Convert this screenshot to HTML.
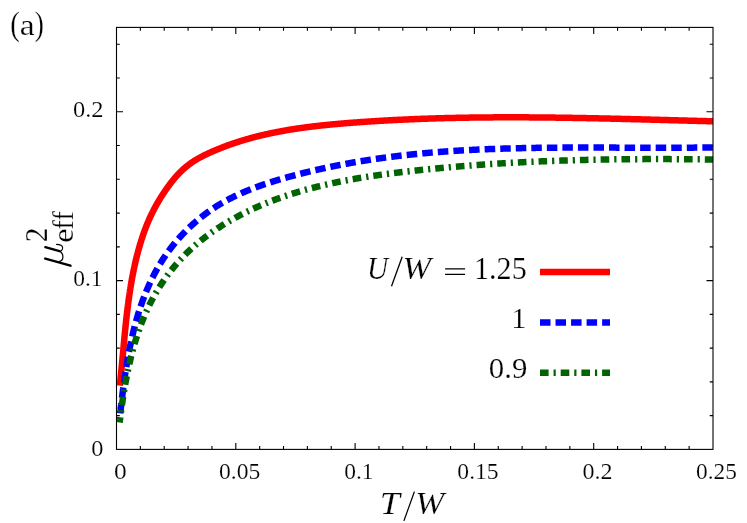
<!DOCTYPE html>
<html><head><meta charset="utf-8"><title>chart</title>
<style>html,body{margin:0;padding:0;background:#fff;}svg{display:block;}text{font-family:"Liberation Serif",serif;fill:#000;}</style></head><body>
<svg width="747" height="523" viewBox="0 0 747 523">
<rect width="747" height="523" fill="#fff"/>
<path d="M140.36 449.40 v-3.30 M140.36 27.40 v3.30 M164.22 449.40 v-3.30 M164.22 27.40 v3.30 M188.08 449.40 v-3.30 M188.08 27.40 v3.30 M211.94 449.40 v-3.30 M211.94 27.40 v3.30 M235.80 449.40 v-6.50 M235.80 27.40 v6.50 M259.66 449.40 v-3.30 M259.66 27.40 v3.30 M283.52 449.40 v-3.30 M283.52 27.40 v3.30 M307.38 449.40 v-3.30 M307.38 27.40 v3.30 M331.24 449.40 v-3.30 M331.24 27.40 v3.30 M355.10 449.40 v-6.50 M355.10 27.40 v6.50 M378.96 449.40 v-3.30 M378.96 27.40 v3.30 M402.82 449.40 v-3.30 M402.82 27.40 v3.30 M426.68 449.40 v-3.30 M426.68 27.40 v3.30 M450.54 449.40 v-3.30 M450.54 27.40 v3.30 M474.40 449.40 v-6.50 M474.40 27.40 v6.50 M498.26 449.40 v-3.30 M498.26 27.40 v3.30 M522.12 449.40 v-3.30 M522.12 27.40 v3.30 M545.98 449.40 v-3.30 M545.98 27.40 v3.30 M569.84 449.40 v-3.30 M569.84 27.40 v3.30 M593.70 449.40 v-6.50 M593.70 27.40 v6.50 M617.56 449.40 v-3.30 M617.56 27.40 v3.30 M641.42 449.40 v-3.30 M641.42 27.40 v3.30 M665.28 449.40 v-3.30 M665.28 27.40 v3.30 M689.14 449.40 v-3.30 M689.14 27.40 v3.30 M116.50 415.64 h3.30 M713.00 415.64 h-3.30 M116.50 381.88 h3.30 M713.00 381.88 h-3.30 M116.50 348.12 h3.30 M713.00 348.12 h-3.30 M116.50 314.36 h3.30 M713.00 314.36 h-3.30 M116.50 280.60 h6.50 M713.00 280.60 h-6.50 M116.50 246.84 h3.30 M713.00 246.84 h-3.30 M116.50 213.08 h3.30 M713.00 213.08 h-3.30 M116.50 179.32 h3.30 M713.00 179.32 h-3.30 M116.50 145.56 h3.30 M713.00 145.56 h-3.30 M116.50 111.80 h6.50 M713.00 111.80 h-6.50 M116.50 78.04 h3.30 M713.00 78.04 h-3.30 M116.50 44.28 h3.30 M713.00 44.28 h-3.30" stroke="#000" stroke-width="1.1" fill="none"/>
<g fill="none" stroke-linecap="butt" stroke-linejoin="round">
<path d="M119.80 385.60 L119.85 385.11 L119.91 384.62 L119.96 384.13 L120.01 383.64 L120.07 383.15 L120.12 382.66 L120.17 382.17 L120.22 381.68 L120.28 381.19 L120.33 380.70 L120.38 380.20 L120.43 379.71 L120.48 379.22 L120.53 378.73 L120.58 378.24 L120.64 377.74 L120.69 377.25 L120.74 376.76 L120.79 376.27 L120.84 375.77 L120.89 375.28 L120.94 374.79 L120.98 374.29 L121.03 373.80 L121.08 373.31 L121.13 372.81 L121.18 372.32 L121.23 371.83 L121.28 371.33 L121.33 370.84 L121.37 370.34 L121.42 369.85 L121.47 369.35 L121.52 368.86 L121.56 368.36 L121.61 367.87 L121.66 367.37 L121.71 366.88 L121.75 366.38 L121.80 365.88 L121.85 365.39 L121.89 364.89 L121.94 364.40 L121.99 363.90 L122.03 363.40 L122.08 362.91 L122.13 362.41 L122.17 361.91 L122.22 361.42 L122.27 360.92 L122.31 360.42 L122.36 359.93 L122.40 359.43 L122.45 358.93 L122.50 358.43 L122.54 357.94 L122.59 357.44 L122.63 356.94 L122.68 356.44 L122.73 355.94 L122.77 355.45 L122.82 354.95 L122.86 354.45 L122.91 353.95 L122.95 353.45 L123.00 352.96 L123.05 352.46 L123.09 351.96 L123.14 351.46 L123.18 350.96 L123.23 350.46 L123.27 349.96 L123.32 349.46 L123.37 348.96 L123.41 348.47 L123.46 347.97 L123.50 347.47 L123.55 346.97 L123.60 346.47 L123.64 345.97 L123.69 345.47 L123.73 344.97 L123.78 344.47 L123.83 343.97 L123.87 343.47 L123.92 342.97 L123.97 342.47 L124.01 341.97 L124.06 341.47 L124.11 340.97 L124.15 340.47 L124.20 339.97 L124.25 339.47 L124.30 338.97 L124.34 338.47 L124.39 337.97 L124.44 337.47 L124.49 336.97 L124.53 336.47 L124.58 335.97 L124.63 335.47 L124.68 334.97 L124.73 334.47 L124.77 333.97 L124.82 333.47 L124.87 332.97 L124.92 332.47 L124.97 331.97 L125.02 331.46 L125.07 330.96 L125.12 330.46 L125.17 329.96 L125.22 329.46 L125.27 328.96 L125.32 328.46 L125.37 327.96 L125.42 327.46 L125.47 326.96 L125.52 326.46 L125.58 325.96 L125.63 325.46 L125.68 324.96 L125.73 324.46 L125.78 323.96 L125.84 323.46 L125.89 322.96 L125.94 322.46 L126.00 321.96 L126.05 321.46 L126.10 320.95 L126.16 320.45 L126.21 319.95 L126.27 319.45 L126.32 318.95 L126.38 318.45 L126.43 317.95 L126.49 317.45 L126.54 316.95 L126.60 316.45 L126.66 315.95 L126.71 315.45 L126.77 314.95 L126.83 314.45 L126.88 313.95 L126.94 313.45 L127.00 312.95 L127.06 312.45 L127.12 311.96 L127.18 311.46 L127.24 310.96 L127.30 310.46 L127.36 309.96 L127.42 309.46 L127.48 308.96 L127.54 308.46 L127.60 307.96 L127.66 307.46 L127.73 306.96 L127.79 306.46 L127.85 305.96 L127.92 305.47 L127.98 304.97 L128.04 304.47 L128.11 303.97 L128.17 303.47 L128.24 302.97 L128.31 302.48 L128.37 301.98 L128.44 301.48 L128.51 300.98 L128.57 300.48 L128.64 299.99 L128.71 299.49 L128.78 298.99 L128.85 298.49 L128.92 298.00 L128.99 297.50 L129.06 297.00 L129.13 296.50 L129.20 296.01 L129.27 295.51 L129.34 295.01 L129.42 294.52 L129.49 294.02 L129.56 293.52 L129.64 293.03 L129.71 292.53 L129.79 292.04 L129.86 291.54 L129.94 291.04 L130.01 290.55 L130.09 290.05 L130.17 289.56 L130.25 289.06 L130.33 288.57 L130.40 288.07 L130.48 287.58 L130.56 287.08 L130.65 286.59 L130.73 286.09 L130.81 285.60 L130.89 285.11 L130.97 284.61 L131.06 284.12 L131.14 283.62 L131.22 283.13 L131.31 282.64 L131.39 282.14 L131.48 281.65 L131.57 281.16 L131.65 280.67 L131.74 280.17 L131.83 279.68 L131.92 279.19 L132.01 278.70 L132.10 278.21 L132.19 277.71 L132.28 277.22 L132.37 276.73 L132.47 276.24 L132.56 275.75 L132.65 275.26 L132.75 274.77 L132.84 274.28 L132.94 273.79 L133.03 273.30 L133.13 272.81 L133.23 272.32 L133.33 271.83 L133.42 271.34 L133.52 270.85 L133.62 270.36 L133.72 269.87 L133.83 269.38 L133.93 268.89 L134.03 268.41 L134.13 267.92 L134.24 267.43 L134.34 266.94 L134.45 266.46 L134.55 265.97 L134.66 265.48 L134.77 265.00 L134.88 264.51 L134.99 264.02 L135.09 263.54 L135.21 263.05 L135.32 262.57 L135.43 262.08 L135.54 261.60 L135.65 261.11 L135.77 260.63 L135.88 260.14 L136.00 259.66 L136.11 259.17 L136.23 258.69 L136.35 258.21 L136.47 257.72 L136.59 257.24 L136.71 256.76 L136.83 256.28 L136.95 255.79 L137.07 255.31 L137.19 254.83 L137.32 254.35 L137.44 253.87 L137.57 253.39 L137.69 252.90 L137.82 252.42 L137.95 251.94 L138.08 251.46 L138.21 250.98 L138.34 250.51 L138.47 250.03 L138.60 249.55 L138.73 249.07 L138.86 248.59 L139.00 248.11 L139.13 247.64 L139.27 247.16 L139.41 246.68 L139.54 246.20 L139.68 245.73 L139.82 245.25 L139.96 244.77 L140.10 244.30 L140.25 243.82 L140.39 243.35 L140.53 242.87 L140.68 242.40 L140.82 241.92 L140.97 241.45 L141.12 240.98 L141.27 240.50 L141.41 240.03 L141.56 239.56 L141.72 239.09 L141.87 238.61 L142.02 238.14 L142.18 237.67 L142.33 237.20 L142.49 236.73 L142.65 236.26 L142.80 235.79 L142.96 235.32 L143.12 234.85 L143.29 234.38 L143.45 233.91 L143.61 233.45 L143.78 232.98 L143.94 232.51 L144.11 232.04 L144.28 231.58 L144.45 231.11 L144.62 230.65 L144.79 230.18 L144.96 229.72 L145.13 229.25 L145.31 228.79 L145.49 228.32 L145.66 227.86 L145.84 227.40 L146.02 226.94 L146.20 226.47 L146.38 226.01 L146.57 225.55 L146.75 225.09 L146.94 224.63 L147.12 224.17 L147.31 223.71 L147.50 223.25 L147.69 222.79 L147.88 222.34 L148.08 221.88 L148.27 221.42 L148.47 220.96 L148.66 220.51 L148.86 220.05 L149.06 219.60 L149.26 219.14 L149.46 218.69 L149.67 218.23 L149.87 217.78 L150.08 217.33 L150.29 216.87 L150.49 216.42 L150.70 215.97 L150.92 215.52 L151.13 215.07 L151.34 214.62 L151.56 214.17 L151.78 213.72 L152.00 213.27 L152.22 212.83 L152.44 212.38 L152.66 211.93 L152.89 211.49 L153.11 211.04 L153.34 210.60 L153.57 210.15 L153.80 209.71 L154.03 209.26 L154.26 208.82 L154.50 208.38 L154.73 207.94 L154.97 207.49 L155.21 207.05 L155.45 206.61 L155.69 206.17 L155.93 205.74 L156.18 205.30 L156.42 204.86 L156.67 204.42 L156.92 203.99 L157.17 203.55 L157.42 203.11 L157.67 202.68 L157.92 202.25 L158.18 201.81 L158.43 201.38 L158.69 200.95 L158.95 200.52 L159.21 200.08 L159.47 199.65 L159.73 199.22 L159.99 198.80 L160.26 198.37 L160.52 197.94 L160.79 197.51 L161.06 197.09 L161.32 196.66 L161.59 196.24 L161.87 195.81 L162.14 195.39 L162.41 194.96 L162.68 194.54 L162.96 194.12 L163.24 193.70 L163.51 193.28 L163.79 192.86 L164.07 192.44 L164.35 192.02 L164.63 191.61 L164.91 191.19 L165.20 190.77 L165.48 190.36 L165.77 189.94 L166.05 189.53 L166.34 189.12 L166.63 188.70 L166.92 188.29 L167.21 187.88 L167.50 187.47 L167.79 187.06 L168.08 186.66 L168.38 186.25 L168.67 185.84 L168.97 185.44 L169.27 185.03 L169.56 184.63 L169.86 184.23 L170.17 183.83 L170.47 183.43 L170.77 183.03 L171.08 182.63 L171.38 182.24 L171.69 181.84 L172.00 181.45 L172.31 181.06 L172.62 180.67 L172.93 180.28 L173.24 179.89 L173.56 179.51 L173.88 179.12 L174.20 178.74 L174.52 178.36 L174.84 177.98 L175.16 177.60 L175.48 177.22 L175.81 176.85 L176.14 176.47 L176.47 176.10 L176.80 175.73 L177.13 175.37 L177.47 175.00 L177.80 174.64 L178.14 174.28 L178.48 173.92 L178.82 173.56 L179.16 173.20 L179.51 172.85 L179.86 172.50 L180.21 172.15 L180.56 171.80 L180.91 171.46 L181.26 171.11 L181.62 170.77 L181.98 170.44 L182.34 170.10 L182.70 169.77 L183.06 169.43 L183.43 169.10 L183.80 168.78 L184.17 168.45 L184.54 168.13 L184.91 167.81 L185.29 167.49 L185.67 167.17 L186.04 166.86 L186.43 166.55 L186.81 166.24 L187.19 165.93 L187.58 165.63 L187.97 165.32 L188.36 165.02 L188.75 164.72 L189.14 164.43 L189.54 164.13 L189.94 163.84 L190.34 163.55 L190.74 163.27 L191.14 162.98 L191.54 162.70 L191.95 162.42 L192.36 162.14 L192.77 161.86 L193.18 161.59 L193.60 161.32 L194.01 161.05 L194.43 160.78 L194.85 160.52 L195.27 160.26 L195.69 160.00 L196.12 159.74 L196.54 159.48 L196.97 159.23 L197.40 158.98 L197.83 158.73 L198.26 158.48 L198.69 158.24 L199.13 157.99 L199.56 157.75 L200.00 157.51 L200.44 157.27 L200.88 157.04 L201.32 156.80 L201.76 156.57 L202.21 156.34 L202.65 156.11 L203.10 155.88 L203.54 155.65 L203.99 155.43 L204.44 155.21 L204.89 154.99 L205.34 154.77 L205.79 154.55 L206.24 154.33 L206.70 154.11 L207.15 153.90 L207.61 153.69 L208.06 153.47 L208.52 153.26 L208.97 153.06 L209.43 152.85 L209.89 152.64 L210.34 152.43 L210.80 152.23 L211.26 152.03 L211.72 151.82 L212.18 151.62 L212.64 151.42 L213.10 151.22 L213.56 151.02 L214.02 150.82 L214.48 150.63 L214.94 150.43 L215.40 150.24 L215.86 150.04 L216.32 149.85 L216.78 149.66 L217.25 149.47 L217.71 149.27 L218.17 149.09 L218.63 148.90 L219.10 148.71 L219.56 148.52 L220.03 148.34 L220.49 148.15 L220.95 147.97 L221.42 147.79 L221.88 147.60 L222.35 147.42 L222.81 147.24 L223.28 147.06 L223.75 146.88 L224.21 146.71 L224.68 146.53 L225.15 146.35 L225.61 146.18 L226.08 146.01 L226.55 145.83 L227.02 145.66 L227.48 145.49 L227.95 145.32 L228.42 145.15 L228.89 144.98 L229.36 144.81 L229.83 144.65 L230.30 144.48 L230.77 144.32 L231.24 144.15 L231.71 143.99 L232.18 143.82 L232.65 143.66 L233.12 143.50 L233.59 143.34 L234.06 143.18 L234.53 143.02 L235.01 142.87 L235.48 142.71 L235.95 142.55 L236.42 142.40 L236.90 142.24 L237.37 142.09 L237.84 141.94 L238.32 141.79 L238.79 141.64 L239.26 141.49 L239.74 141.34 L240.21 141.19 L240.69 141.04 L241.16 140.89 L241.64 140.75 L242.11 140.60 L242.59 140.46 L243.06 140.31 L243.54 140.17 L244.02 140.03 L244.49 139.89 L244.97 139.75 L245.45 139.61 L245.92 139.47 L246.40 139.33 L246.88 139.19 L247.36 139.05 L247.84 138.92 L248.31 138.78 L248.79 138.65 L249.27 138.51 L249.75 138.38 L250.23 138.25 L250.71 138.12 L251.19 137.99 L251.67 137.85 L252.15 137.73 L252.63 137.60 L253.11 137.47 L253.59 137.34 L254.07 137.22 L254.55 137.09 L255.03 136.96 L255.51 136.84 L255.99 136.72 L256.48 136.59 L256.96 136.47 L257.44 136.35 L257.92 136.23 L258.40 136.11 L258.89 135.99 L259.37 135.87 L259.85 135.75 L260.34 135.64 L260.82 135.52 L261.30 135.40 L261.79 135.29 L262.27 135.17 L262.75 135.06 L263.24 134.95 L263.72 134.83 L264.21 134.72 L264.69 134.61 L265.18 134.50 L265.66 134.39 L266.15 134.28 L266.63 134.17 L267.12 134.06 L267.61 133.96 L268.09 133.85 L268.58 133.74 L269.06 133.64 L269.55 133.53 L270.04 133.43 L270.52 133.32 L271.01 133.22 L271.50 133.12 L271.99 133.02 L272.47 132.92 L272.96 132.82 L273.45 132.72 L273.94 132.62 L274.43 132.52 L274.91 132.42 L275.40 132.32 L275.89 132.23 L276.38 132.13 L276.87 132.03 L277.36 131.94 L277.85 131.84 L278.34 131.75 L278.83 131.66 L279.32 131.56 L279.80 131.47 L280.29 131.38 L280.78 131.29 L281.28 131.20 L281.77 131.11 L282.26 131.02 L282.75 130.93 L283.24 130.84 L283.73 130.75 L284.22 130.67 L284.71 130.58 L285.20 130.49 L285.69 130.41 L286.19 130.32 L286.68 130.24 L287.17 130.16 L287.66 130.07 L288.15 129.99 L288.65 129.91 L289.14 129.82 L289.63 129.74 L290.12 129.66 L290.62 129.58 L291.11 129.50 L291.60 129.42 L292.09 129.34 L292.59 129.27 L293.08 129.19 L293.57 129.11 L294.07 129.03 L294.56 128.96 L295.06 128.88 L295.55 128.81 L296.04 128.73 L296.54 128.66 L297.03 128.58 L297.53 128.51 L298.02 128.44 L298.52 128.37 L299.01 128.29 L299.50 128.22 L300.00 128.15 L300.49 128.08 L300.99 128.01 L301.48 127.94 L301.98 127.87 L302.48 127.80 L302.97 127.73 L303.47 127.67 L303.96 127.60 L304.46 127.53 L304.95 127.47 L305.45 127.40 L305.95 127.33 L306.44 127.27 L306.94 127.20 L307.43 127.14 L307.93 127.08 L308.43 127.01 L308.92 126.95 L309.42 126.89 L309.92 126.82 L310.41 126.76 L310.91 126.70 L311.41 126.64 L311.91 126.58 L312.40 126.52 L312.90 126.46 L313.40 126.40 L313.89 126.34 L314.39 126.28 L314.89 126.22 L315.39 126.16 L315.89 126.11 L316.38 126.05 L316.88 125.99 L317.38 125.93 L317.88 125.88 L318.37 125.82 L318.87 125.77 L319.37 125.71 L319.87 125.66 L320.37 125.60 L320.87 125.55 L321.36 125.49 L321.86 125.44 L322.36 125.39 L322.86 125.33 L323.36 125.28 L323.86 125.23 L324.36 125.18 L324.85 125.13 L325.35 125.07 L325.85 125.02 L326.35 124.97 L326.85 124.92 L327.35 124.87 L327.85 124.82 L328.35 124.77 L328.85 124.72 L329.35 124.68 L329.85 124.63 L330.35 124.58 L330.84 124.53 L331.34 124.48 L331.84 124.44 L332.34 124.39 L332.84 124.34 L333.34 124.30 L333.84 124.25 L334.34 124.20 L334.84 124.16 L335.34 124.11 L335.84 124.07 L336.34 124.02 L336.84 123.98 L337.34 123.93 L337.84 123.89 L338.34 123.85 L338.84 123.80 L339.34 123.76 L339.84 123.71 L340.34 123.67 L340.84 123.63 L341.34 123.59 L341.84 123.54 L342.34 123.50 L342.84 123.46 L343.34 123.42 L343.84 123.38 L344.34 123.34 L344.84 123.30 L345.34 123.25 L345.84 123.21 L346.34 123.17 L346.84 123.13 L347.34 123.09 L347.84 123.05 L348.34 123.01 L348.84 122.97 L349.34 122.94 L349.84 122.90 L350.34 122.86 L350.84 122.82 L351.34 122.78 L351.84 122.74 L352.34 122.70 L352.84 122.67 L353.34 122.63 L353.84 122.59 L354.34 122.55 L354.84 122.52 L355.34 122.48 L355.85 122.44 L356.35 122.40 L356.85 122.37 L357.35 122.33 L357.85 122.29 L358.35 122.26 L358.85 122.22 L359.35 122.19 L359.85 122.15 L360.35 122.11 L360.85 122.08 L361.35 122.04 L361.85 122.01 L362.35 121.97 L362.85 121.94 L363.35 121.90 L363.85 121.87 L364.35 121.83 L364.85 121.80 L365.35 121.77 L365.85 121.73 L366.35 121.70 L366.85 121.66 L367.35 121.63 L367.85 121.60 L368.35 121.56 L368.85 121.53 L369.35 121.50 L369.85 121.47 L370.35 121.43 L370.85 121.40 L371.35 121.37 L371.85 121.34 L372.35 121.30 L372.85 121.27 L373.35 121.24 L373.85 121.21 L374.35 121.18 L374.85 121.15 L375.35 121.12 L375.85 121.08 L376.35 121.05 L376.85 121.02 L377.35 120.99 L377.85 120.96 L378.35 120.93 L378.85 120.90 L379.35 120.87 L379.85 120.84 L380.35 120.81 L380.85 120.78 L381.35 120.75 L381.85 120.72 L382.35 120.70 L382.85 120.67 L383.35 120.64 L383.85 120.61 L384.35 120.58 L384.85 120.55 L385.35 120.52 L385.85 120.50 L386.35 120.47 L386.85 120.44 L387.35 120.41 L387.85 120.39 L388.35 120.36 L388.85 120.33 L389.35 120.30 L389.85 120.28 L390.35 120.25 L390.85 120.22 L391.35 120.20 L391.85 120.17 L392.35 120.14 L392.85 120.12 L393.35 120.09 L393.85 120.07 L394.35 120.04 L394.85 120.02 L395.35 119.99 L395.85 119.96 L396.35 119.94 L396.85 119.91 L397.35 119.89 L397.85 119.87 L398.35 119.84 L398.85 119.82 L399.35 119.79 L399.85 119.77 L400.35 119.74 L400.85 119.72 L401.35 119.70 L401.85 119.67 L402.34 119.65 L402.84 119.63 L403.34 119.60 L403.84 119.58 L404.34 119.56 L404.84 119.53 L405.34 119.51 L405.84 119.49 L406.34 119.47 L406.84 119.44 L407.34 119.42 L407.84 119.40 L408.34 119.38 L408.84 119.36 L409.34 119.33 L409.84 119.31 L410.34 119.29 L410.84 119.27 L411.34 119.25 L411.84 119.23 L412.34 119.21 L412.84 119.19 L413.34 119.17 L413.84 119.15 L414.34 119.13 L414.84 119.11 L415.34 119.09 L415.84 119.07 L416.34 119.05 L416.84 119.03 L417.34 119.01 L417.84 118.99 L418.34 118.97 L418.84 118.95 L419.34 118.93 L419.84 118.91 L420.34 118.89 L420.84 118.87 L421.34 118.85 L421.84 118.84 L422.34 118.82 L422.83 118.80 L423.33 118.78 L423.83 118.76 L424.33 118.75 L424.83 118.73 L425.33 118.71 L425.83 118.69 L426.33 118.68 L426.83 118.66 L427.33 118.64 L427.83 118.63 L428.33 118.61 L428.83 118.59 L429.33 118.58 L429.83 118.56 L430.33 118.54 L430.83 118.53 L431.33 118.51 L431.83 118.49 L432.33 118.48 L432.83 118.46 L433.33 118.45 L433.83 118.43 L434.33 118.42 L434.83 118.40 L435.33 118.39 L435.83 118.37 L436.33 118.36 L436.83 118.34 L437.32 118.33 L437.82 118.31 L438.32 118.30 L438.82 118.28 L439.32 118.27 L439.82 118.26 L440.32 118.24 L440.82 118.23 L441.32 118.21 L441.82 118.20 L442.32 118.19 L442.82 118.17 L443.32 118.16 L443.82 118.15 L444.32 118.13 L444.82 118.12 L445.32 118.11 L445.82 118.10 L446.32 118.08 L446.82 118.07 L447.32 118.06 L447.82 118.05 L448.32 118.03 L448.82 118.02 L449.32 118.01 L449.81 118.00 L450.31 117.99 L450.81 117.97 L451.31 117.96 L451.81 117.95 L452.31 117.94 L452.81 117.93 L453.31 117.92 L453.81 117.91 L454.31 117.90 L454.81 117.89 L455.31 117.88 L455.81 117.87 L456.31 117.86 L456.81 117.84 L457.31 117.83 L457.81 117.82 L458.31 117.81 L458.81 117.80 L459.31 117.80 L459.81 117.79 L460.31 117.78 L460.80 117.77 L461.30 117.76 L461.80 117.75 L462.30 117.74 L462.80 117.73 L463.30 117.72 L463.80 117.71 L464.30 117.70 L464.80 117.70 L465.30 117.69 L465.80 117.68 L466.30 117.67 L466.80 117.66 L467.30 117.65 L467.80 117.65 L468.30 117.64 L468.80 117.63 L469.30 117.62 L469.80 117.62 L470.30 117.61 L470.79 117.60 L471.29 117.59 L471.79 117.59 L472.29 117.58 L472.79 117.57 L473.29 117.57 L473.79 117.56 L474.29 117.55 L474.79 117.55 L475.29 117.54 L475.79 117.53 L476.29 117.53 L476.79 117.52 L477.29 117.52 L477.79 117.51 L478.29 117.50 L478.79 117.50 L479.29 117.49 L479.79 117.49 L480.29 117.48 L480.78 117.48 L481.28 117.47 L481.78 117.47 L482.28 117.46 L482.78 117.46 L483.28 117.45 L483.78 117.45 L484.28 117.44 L484.78 117.44 L485.28 117.43 L485.78 117.43 L486.28 117.42 L486.78 117.42 L487.28 117.41 L487.78 117.41 L488.28 117.41 L488.78 117.40 L489.28 117.40 L489.77 117.40 L490.27 117.39 L490.77 117.39 L491.27 117.39 L491.77 117.38 L492.27 117.38 L492.77 117.38 L493.27 117.37 L493.77 117.37 L494.27 117.37 L494.77 117.36 L495.27 117.36 L495.77 117.36 L496.27 117.36 L496.77 117.35 L497.27 117.35 L497.77 117.35 L498.27 117.35 L498.77 117.35 L499.26 117.34 L499.76 117.34 L500.26 117.34 L500.76 117.34 L501.26 117.34 L501.76 117.34 L502.26 117.33 L502.76 117.33 L503.26 117.33 L503.76 117.33 L504.26 117.33 L504.76 117.33 L505.26 117.33 L505.76 117.33 L506.26 117.33 L506.76 117.32 L507.26 117.32 L507.76 117.32 L508.25 117.32 L508.75 117.32 L509.25 117.32 L509.75 117.32 L510.25 117.32 L510.75 117.32 L511.25 117.32 L511.75 117.32 L512.25 117.32 L512.75 117.32 L513.25 117.32 L513.75 117.32 L514.25 117.32 L514.75 117.33 L515.25 117.33 L515.75 117.33 L516.25 117.33 L516.75 117.33 L517.24 117.33 L517.74 117.33 L518.24 117.33 L518.74 117.33 L519.24 117.33 L519.74 117.34 L520.24 117.34 L520.74 117.34 L521.24 117.34 L521.74 117.34 L522.24 117.34 L522.74 117.35 L523.24 117.35 L523.74 117.35 L524.24 117.35 L524.74 117.35 L525.24 117.36 L525.73 117.36 L526.23 117.36 L526.73 117.36 L527.23 117.37 L527.73 117.37 L528.23 117.37 L528.73 117.37 L529.23 117.38 L529.73 117.38 L530.23 117.38 L530.73 117.39 L531.23 117.39 L531.73 117.39 L532.23 117.40 L532.73 117.40 L533.23 117.40 L533.73 117.41 L534.23 117.41 L534.72 117.41 L535.22 117.42 L535.72 117.42 L536.22 117.42 L536.72 117.43 L537.22 117.43 L537.72 117.44 L538.22 117.44 L538.72 117.45 L539.22 117.45 L539.72 117.45 L540.22 117.46 L540.72 117.46 L541.22 117.47 L541.72 117.47 L542.22 117.48 L542.72 117.48 L543.22 117.49 L543.72 117.49 L544.21 117.50 L544.71 117.50 L545.21 117.51 L545.71 117.51 L546.21 117.52 L546.71 117.52 L547.21 117.53 L547.71 117.53 L548.21 117.54 L548.71 117.54 L549.21 117.55 L549.71 117.55 L550.21 117.56 L550.71 117.57 L551.21 117.57 L551.71 117.58 L552.21 117.58 L552.71 117.59 L553.21 117.59 L553.70 117.60 L554.20 117.61 L554.70 117.61 L555.20 117.62 L555.70 117.63 L556.20 117.63 L556.70 117.64 L557.20 117.65 L557.70 117.65 L558.20 117.66 L558.70 117.67 L559.20 117.67 L559.70 117.68 L560.20 117.69 L560.70 117.69 L561.20 117.70 L561.70 117.71 L562.20 117.71 L562.70 117.72 L563.20 117.73 L563.69 117.74 L564.19 117.74 L564.69 117.75 L565.19 117.76 L565.69 117.77 L566.19 117.77 L566.69 117.78 L567.19 117.79 L567.69 117.80 L568.19 117.80 L568.69 117.81 L569.19 117.82 L569.69 117.83 L570.19 117.83 L570.69 117.84 L571.19 117.85 L571.69 117.86 L572.19 117.87 L572.69 117.88 L573.19 117.88 L573.69 117.89 L574.18 117.90 L574.68 117.91 L575.18 117.92 L575.68 117.93 L576.18 117.93 L576.68 117.94 L577.18 117.95 L577.68 117.96 L578.18 117.97 L578.68 117.98 L579.18 117.99 L579.68 118.00 L580.18 118.00 L580.68 118.01 L581.18 118.02 L581.68 118.03 L582.18 118.04 L582.68 118.05 L583.18 118.06 L583.68 118.07 L584.18 118.08 L584.68 118.09 L585.18 118.10 L585.67 118.11 L586.17 118.12 L586.67 118.13 L587.17 118.14 L587.67 118.15 L588.17 118.15 L588.67 118.16 L589.17 118.17 L589.67 118.18 L590.17 118.19 L590.67 118.20 L591.17 118.21 L591.67 118.22 L592.17 118.23 L592.67 118.24 L593.17 118.25 L593.67 118.26 L594.17 118.27 L594.67 118.28 L595.17 118.29 L595.67 118.31 L596.17 118.32 L596.67 118.33 L597.17 118.34 L597.67 118.35 L598.17 118.36 L598.67 118.37 L599.16 118.38 L599.66 118.39 L600.16 118.40 L600.66 118.41 L601.16 118.42 L601.66 118.43 L602.16 118.44 L602.66 118.45 L603.16 118.46 L603.66 118.48 L604.16 118.49 L604.66 118.50 L605.16 118.51 L605.66 118.52 L606.16 118.53 L606.66 118.54 L607.16 118.55 L607.66 118.56 L608.16 118.58 L608.66 118.59 L609.16 118.60 L609.66 118.61 L610.16 118.62 L610.66 118.63 L611.16 118.64 L611.66 118.66 L612.16 118.67 L612.66 118.68 L613.16 118.69 L613.66 118.70 L614.16 118.71 L614.66 118.72 L615.16 118.74 L615.65 118.75 L616.15 118.76 L616.65 118.77 L617.15 118.78 L617.65 118.80 L618.15 118.81 L618.65 118.82 L619.15 118.83 L619.65 118.84 L620.15 118.86 L620.65 118.87 L621.15 118.88 L621.65 118.89 L622.15 118.90 L622.65 118.92 L623.15 118.93 L623.65 118.94 L624.15 118.95 L624.65 118.96 L625.15 118.98 L625.65 118.99 L626.15 119.00 L626.65 119.01 L627.15 119.03 L627.65 119.04 L628.15 119.05 L628.65 119.06 L629.15 119.08 L629.65 119.09 L630.15 119.10 L630.65 119.11 L631.15 119.13 L631.65 119.14 L632.15 119.15 L632.65 119.16 L633.15 119.18 L633.65 119.19 L634.15 119.20 L634.65 119.21 L635.15 119.23 L635.65 119.24 L636.15 119.25 L636.65 119.26 L637.15 119.28 L637.65 119.29 L638.15 119.30 L638.65 119.32 L639.15 119.33 L639.65 119.34 L640.15 119.35 L640.65 119.37 L641.15 119.38 L641.65 119.39 L642.15 119.41 L642.65 119.42 L643.15 119.43 L643.65 119.45 L644.15 119.46 L644.65 119.47 L645.15 119.48 L645.65 119.50 L646.15 119.51 L646.65 119.52 L647.15 119.54 L647.65 119.55 L648.15 119.56 L648.65 119.58 L649.15 119.59 L649.65 119.60 L650.15 119.62 L650.65 119.63 L651.15 119.64 L651.65 119.66 L652.15 119.67 L652.65 119.68 L653.15 119.70 L653.65 119.71 L654.15 119.72 L654.65 119.74 L655.15 119.75 L655.65 119.76 L656.15 119.78 L656.65 119.79 L657.15 119.80 L657.65 119.82 L658.15 119.83 L658.65 119.84 L659.15 119.86 L659.65 119.87 L660.15 119.88 L660.65 119.90 L661.15 119.91 L661.65 119.92 L662.15 119.94 L662.65 119.95 L663.15 119.96 L663.65 119.98 L664.15 119.99 L664.65 120.00 L665.15 120.02 L665.65 120.03 L666.15 120.04 L666.65 120.06 L667.15 120.07 L667.65 120.09 L668.15 120.10 L668.65 120.11 L669.15 120.13 L669.65 120.14 L670.15 120.15 L670.65 120.17 L671.15 120.18 L671.65 120.19 L672.15 120.21 L672.65 120.22 L673.15 120.23 L673.65 120.25 L674.15 120.26 L674.65 120.27 L675.15 120.29 L675.65 120.30 L676.15 120.32 L676.65 120.33 L677.15 120.34 L677.65 120.36 L678.15 120.37 L678.65 120.38 L679.15 120.40 L679.65 120.41 L680.15 120.42 L680.65 120.44 L681.15 120.45 L681.65 120.46 L682.15 120.48 L682.65 120.49 L683.15 120.51 L683.66 120.52 L684.16 120.53 L684.66 120.55 L685.16 120.56 L685.66 120.57 L686.16 120.59 L686.66 120.60 L687.16 120.61 L687.66 120.63 L688.16 120.64 L688.66 120.65 L689.16 120.67 L689.66 120.68 L690.16 120.69 L690.66 120.71 L691.16 120.72 L691.66 120.74 L692.16 120.75 L692.66 120.76 L693.16 120.78 L693.66 120.79 L694.16 120.80 L694.66 120.82 L695.16 120.83 L695.66 120.84 L696.16 120.86 L696.66 120.87 L697.17 120.88 L697.67 120.90 L698.17 120.91 L698.67 120.92 L699.17 120.94 L699.67 120.95 L700.17 120.96 L700.67 120.98 L701.17 120.99 L701.67 121.00 L702.17 121.02 L702.67 121.03 L703.17 121.04 L703.67 121.06 L704.17 121.07 L704.67 121.08 L705.17 121.10 L705.67 121.11 L706.17 121.12 L706.67 121.13 L707.18 121.15 L707.68 121.16 L708.18 121.17 L708.68 121.19 L709.18 121.20 L709.68 121.21 L710.18 121.23 L710.68 121.24 L711.18 121.25 L711.68 121.27 L712.18 121.28 L712.68 121.29 L713.00 121.30" stroke="#ff0000" stroke-width="6.5"/>
<path d="M120.20 413.50 L120.26 413.02 L120.31 412.54 L120.36 412.06 L120.42 411.58 L120.47 411.10 L120.52 410.62 L120.58 410.14 L120.63 409.65 L120.69 409.17 L120.74 408.69 L120.80 408.21 L120.85 407.72 L120.91 407.24 L120.96 406.76 L121.02 406.27 L121.07 405.79 L121.13 405.30 L121.19 404.82 L121.24 404.33 L121.30 403.85 L121.36 403.36 L121.41 402.87 L121.47 402.39 L121.53 401.90 L121.58 401.41 L121.64 400.93 L121.70 400.44 L121.76 399.95 L121.82 399.46 L121.87 398.97 L121.93 398.48 L121.99 398.00 L122.05 397.51 L122.11 397.02 L122.17 396.53 L122.23 396.04 L122.29 395.55 L122.35 395.06 L122.41 394.57 L122.47 394.08 L122.53 393.58 L122.60 393.09 L122.66 392.60 L122.72 392.11 L122.78 391.62 L122.84 391.13 L122.91 390.63 L122.97 390.14 L123.03 389.65 L123.10 389.16 L123.16 388.66 L123.23 388.17 L123.29 387.68 L123.36 387.18 L123.42 386.69 L123.49 386.19 L123.55 385.70 L123.62 385.20 L123.69 384.71 L123.75 384.22 L123.82 383.72 L123.89 383.23 L123.95 382.73 L124.02 382.24 L124.09 381.74 L124.16 381.24 L124.23 380.75 L124.30 380.25 L124.37 379.76 L124.44 379.26 L124.51 378.76 L124.58 378.27 L124.65 377.77 L124.72 377.27 L124.80 376.78 L124.87 376.28 L124.94 375.78 L125.02 375.29 L125.09 374.79 L125.16 374.29 L125.24 373.80 L125.31 373.30 L125.39 372.80 L125.46 372.30 L125.54 371.81 L125.62 371.31 L125.69 370.81 L125.77 370.31 L125.85 369.81 L125.93 369.32 L126.00 368.82 L126.08 368.32 L126.16 367.82 L126.24 367.32 L126.32 366.83 L126.40 366.33 L126.49 365.83 L126.57 365.33 L126.65 364.83 L126.73 364.34 L126.82 363.84 L126.90 363.34 L126.98 362.84 L127.07 362.34 L127.15 361.84 L127.24 361.35 L127.32 360.85 L127.41 360.35 L127.50 359.85 L127.59 359.35 L127.67 358.85 L127.76 358.36 L127.85 357.86 L127.94 357.36 L128.03 356.86 L128.12 356.36 L128.21 355.86 L128.30 355.37 L128.40 354.87 L128.49 354.37 L128.58 353.87 L128.68 353.37 L128.77 352.88 L128.86 352.38 L128.96 351.88 L129.06 351.38 L129.15 350.89 L129.25 350.39 L129.35 349.89 L129.44 349.39 L129.54 348.90 L129.64 348.40 L129.74 347.90 L129.84 347.41 L129.94 346.91 L130.05 346.41 L130.15 345.92 L130.25 345.42 L130.35 344.92 L130.46 344.43 L130.56 343.93 L130.67 343.43 L130.77 342.94 L130.88 342.44 L130.99 341.95 L131.09 341.45 L131.20 340.95 L131.31 340.46 L131.42 339.96 L131.53 339.47 L131.64 338.97 L131.75 338.48 L131.86 337.99 L131.98 337.49 L132.09 337.00 L132.20 336.50 L132.32 336.01 L132.43 335.52 L132.55 335.02 L132.67 334.53 L132.78 334.04 L132.90 333.54 L133.02 333.05 L133.14 332.56 L133.26 332.07 L133.38 331.57 L133.50 331.08 L133.62 330.59 L133.75 330.10 L133.87 329.61 L133.99 329.12 L134.12 328.63 L134.24 328.13 L134.37 327.64 L134.50 327.15 L134.63 326.66 L134.75 326.17 L134.88 325.69 L135.01 325.20 L135.14 324.71 L135.27 324.22 L135.41 323.73 L135.54 323.24 L135.67 322.75 L135.81 322.27 L135.94 321.78 L136.08 321.29 L136.21 320.81 L136.35 320.32 L136.49 319.83 L136.63 319.35 L136.77 318.86 L136.91 318.38 L137.05 317.89 L137.19 317.41 L137.34 316.92 L137.48 316.44 L137.62 315.95 L137.77 315.47 L137.91 314.99 L138.06 314.51 L138.21 314.02 L138.36 313.54 L138.51 313.06 L138.66 312.58 L138.81 312.10 L138.96 311.62 L139.11 311.14 L139.26 310.66 L139.42 310.18 L139.57 309.70 L139.73 309.22 L139.89 308.74 L140.04 308.26 L140.20 307.78 L140.36 307.31 L140.52 306.83 L140.68 306.35 L140.84 305.88 L141.01 305.40 L141.17 304.92 L141.33 304.45 L141.50 303.97 L141.67 303.50 L141.83 303.03 L142.00 302.55 L142.17 302.08 L142.34 301.61 L142.51 301.14 L142.68 300.66 L142.85 300.19 L143.03 299.72 L143.20 299.25 L143.38 298.78 L143.55 298.31 L143.73 297.84 L143.91 297.37 L144.09 296.91 L144.27 296.44 L144.45 295.97 L144.63 295.50 L144.81 295.04 L145.00 294.57 L145.18 294.11 L145.37 293.64 L145.55 293.18 L145.74 292.71 L145.93 292.25 L146.12 291.79 L146.31 291.32 L146.50 290.86 L146.69 290.40 L146.88 289.94 L147.08 289.48 L147.27 289.02 L147.47 288.56 L147.67 288.10 L147.86 287.64 L148.06 287.18 L148.26 286.73 L148.46 286.27 L148.67 285.81 L148.87 285.36 L149.07 284.90 L149.28 284.45 L149.49 283.99 L149.69 283.54 L149.90 283.09 L150.11 282.63 L150.32 282.18 L150.53 281.73 L150.74 281.28 L150.96 280.83 L151.17 280.38 L151.39 279.93 L151.61 279.48 L151.82 279.03 L152.04 278.59 L152.26 278.14 L152.48 277.69 L152.70 277.25 L152.93 276.80 L153.15 276.36 L153.38 275.92 L153.60 275.47 L153.83 275.03 L154.06 274.59 L154.29 274.15 L154.52 273.71 L154.75 273.27 L154.98 272.83 L155.22 272.39 L155.45 271.95 L155.69 271.51 L155.93 271.08 L156.17 270.64 L156.41 270.21 L156.65 269.77 L156.89 269.34 L157.13 268.90 L157.38 268.47 L157.62 268.04 L157.87 267.61 L158.12 267.18 L158.36 266.75 L158.61 266.32 L158.87 265.89 L159.12 265.46 L159.37 265.03 L159.63 264.61 L159.88 264.18 L160.14 263.76 L160.40 263.33 L160.66 262.91 L160.92 262.48 L161.18 262.06 L161.44 261.64 L161.71 261.22 L161.97 260.80 L162.24 260.38 L162.50 259.96 L162.77 259.54 L163.04 259.13 L163.32 258.71 L163.59 258.29 L163.86 257.88 L164.14 257.47 L164.41 257.05 L164.69 256.64 L164.97 256.23 L165.25 255.82 L165.53 255.41 L165.81 255.00 L166.10 254.59 L166.38 254.18 L166.67 253.77 L166.95 253.37 L167.24 252.96 L167.53 252.56 L167.82 252.15 L168.11 251.75 L168.41 251.35 L168.70 250.95 L168.99 250.55 L169.29 250.15 L169.59 249.75 L169.89 249.35 L170.19 248.95 L170.49 248.55 L170.79 248.16 L171.09 247.76 L171.40 247.37 L171.70 246.98 L172.01 246.58 L172.32 246.19 L172.62 245.80 L172.93 245.41 L173.25 245.02 L173.56 244.64 L173.87 244.25 L174.19 243.86 L174.50 243.48 L174.82 243.09 L175.13 242.71 L175.45 242.33 L175.77 241.94 L176.09 241.56 L176.42 241.18 L176.74 240.80 L177.06 240.42 L177.39 240.05 L177.71 239.67 L178.04 239.30 L178.37 238.92 L178.70 238.55 L179.03 238.17 L179.36 237.80 L179.69 237.43 L180.03 237.06 L180.36 236.69 L180.70 236.32 L181.03 235.96 L181.37 235.59 L181.71 235.22 L182.05 234.86 L182.39 234.50 L182.73 234.13 L183.08 233.77 L183.42 233.41 L183.77 233.05 L184.11 232.69 L184.46 232.33 L184.81 231.98 L185.16 231.62 L185.51 231.27 L185.86 230.91 L186.21 230.56 L186.56 230.21 L186.92 229.86 L187.27 229.51 L187.63 229.16 L187.98 228.81 L188.34 228.46 L188.70 228.12 L189.06 227.77 L189.42 227.43 L189.78 227.09 L190.15 226.75 L190.51 226.40 L190.87 226.06 L191.24 225.73 L191.61 225.39 L191.97 225.05 L192.34 224.72 L192.71 224.38 L193.08 224.05 L193.45 223.72 L193.82 223.38 L194.20 223.05 L194.57 222.72 L194.95 222.40 L195.32 222.07 L195.70 221.74 L196.08 221.42 L196.46 221.09 L196.83 220.77 L197.21 220.45 L197.60 220.13 L197.98 219.81 L198.36 219.49 L198.75 219.17 L198.90 219.05" stroke="#0000ff" stroke-width="6.5" stroke-dasharray="10.534 5.046" stroke-dashoffset="15.504"/>
<path d="M198.90 219.05 L199.13 218.86 L199.52 218.54 L199.90 218.23 L200.29 217.92 L200.68 217.60 L201.07 217.29 L201.46 216.98 L201.85 216.67 L202.24 216.37 L202.63 216.06 L203.03 215.76 L203.42 215.45 L203.82 215.15 L204.21 214.85 L204.61 214.55 L205.01 214.25 L205.41 213.95 L205.80 213.65 L206.20 213.36 L206.61 213.06 L207.01 212.77 L207.41 212.48 L207.81 212.18 L208.22 211.89 L208.62 211.61 L209.03 211.32 L209.44 211.03 L209.84 210.75 L210.25 210.46 L210.66 210.18 L211.07 209.90 L211.48 209.62 L211.89 209.34 L212.31 209.06 L212.72 208.78 L213.13 208.51 L213.55 208.23 L213.96 207.96 L214.38 207.69 L214.80 207.42 L215.21 207.15 L215.63 206.88 L216.05 206.61 L216.47 206.34 L216.89 206.08 L217.31 205.82 L217.74 205.55 L218.16 205.29 L218.58 205.03 L219.01 204.78 L219.43 204.52 L219.86 204.26 L220.29 204.01 L220.71 203.75 L221.14 203.50 L221.57 203.25 L222.00 203.00 L222.43 202.75 L222.86 202.50 L223.29 202.26 L223.72 202.01 L224.16 201.77 L224.59 201.53 L225.02 201.29 L225.46 201.05 L225.90 200.81 L226.33 200.57 L226.77 200.33 L227.21 200.10 L227.64 199.86 L228.08 199.63 L228.52 199.40 L228.96 199.16 L229.40 198.93 L229.84 198.70 L230.29 198.48 L230.73 198.25 L231.17 198.02 L231.62 197.80 L232.06 197.58 L232.51 197.35 L232.95 197.13 L233.40 196.91 L233.84 196.69 L234.29 196.47 L234.74 196.26 L235.19 196.04 L235.64 195.83 L236.09 195.61 L236.54 195.40 L236.99 195.19 L237.44 194.98 L237.89 194.77 L238.34 194.56 L238.80 194.35 L239.25 194.14 L239.70 193.94 L240.16 193.73 L240.61 193.53 L241.07 193.32 L241.53 193.12 L241.98 192.92 L242.44 192.72 L242.90 192.52 L243.35 192.32 L243.81 192.13 L244.27 191.93 L244.73 191.73 L245.19 191.54 L245.65 191.35 L246.11 191.15 L246.57 190.96 L247.04 190.77 L247.50 190.58 L247.96 190.39 L248.42 190.20 L248.89 190.02 L249.35 189.83 L249.82 189.64 L250.28 189.46 L250.75 189.27 L251.21 189.09 L251.68 188.91 L252.14 188.73 L252.61 188.55 L253.08 188.37 L253.55 188.19 L254.01 188.01 L254.48 187.83 L254.95 187.66 L255.42 187.48 L255.89 187.31 L256.36 187.13 L256.83 186.96 L257.30 186.79 L257.77 186.61 L258.24 186.44 L258.72 186.27 L259.19 186.10 L259.66 185.93 L260.13 185.77 L260.61 185.60 L261.08 185.43 L261.55 185.27 L262.03 185.10 L262.50 184.94 L262.98 184.77 L263.45 184.61 L263.93 184.45 L264.40 184.29 L264.88 184.12 L265.35 183.96 L265.83 183.80 L266.31 183.65 L266.78 183.49 L267.26 183.33 L267.74 183.17 L268.22 183.02 L268.69 182.86 L269.17 182.71 L269.65 182.55 L270.13 182.40 L270.61 182.24 L271.09 182.09 L271.57 181.94 L272.05 181.79 L272.53 181.64 L273.01 181.49 L273.49 181.34 L273.97 181.19 L274.45 181.04 L274.93 180.89 L275.41 180.75 L275.89 180.60 L276.37 180.45 L276.85 180.31 L277.34 180.16 L277.82 180.02 L278.30 179.87 L278.78 179.73 L279.26 179.59 L279.75 179.45 L280.23 179.30 L280.71 179.16 L281.20 179.02 L281.68 178.88 L282.16 178.74 L282.65 178.60 L283.13 178.46 L283.61 178.32 L284.10 178.19 L284.58 178.05 L285.06 177.91 L285.55 177.78 L286.03 177.64 L286.52 177.50 L287.00 177.37 L287.49 177.23 L287.97 177.10 L288.45 176.96 L288.94 176.83 L289.42 176.70 L289.91 176.56 L290.39 176.43 L290.88 176.30 L291.36 176.17 L291.85 176.04 L292.33 175.91 L292.82 175.78 L293.30 175.65 L293.79 175.52 L294.27 175.39 L294.76 175.26 L295.24 175.13 L295.73 175.00 L296.21 174.87 L296.70 174.75 L297.19 174.62 L297.67 174.49 L297.92 174.43" stroke="#0000ff" stroke-width="6.5" stroke-dasharray="10.579 5.068" stroke-dashoffset="13.113"/>
<path d="M297.92 174.43 L298.16 174.37 L298.64 174.24 L299.13 174.12 L299.61 173.99 L300.10 173.87 L300.59 173.74 L301.07 173.62 L301.56 173.49 L302.05 173.37 L302.53 173.25 L303.02 173.13 L303.50 173.00 L303.99 172.88 L304.48 172.76 L304.96 172.64 L305.45 172.52 L305.94 172.40 L306.42 172.28 L306.91 172.16 L307.40 172.04 L307.88 171.92 L308.37 171.81 L308.86 171.69 L309.34 171.57 L309.83 171.45 L310.32 171.34 L310.81 171.22 L311.29 171.11 L311.78 170.99 L312.27 170.87 L312.76 170.76 L313.24 170.65 L313.73 170.53 L314.22 170.42 L314.71 170.31 L315.19 170.19 L315.68 170.08 L316.17 169.97 L316.66 169.86 L317.15 169.74 L317.63 169.63 L318.12 169.52 L318.61 169.41 L319.10 169.30 L319.59 169.19 L320.07 169.08 L320.56 168.98 L321.05 168.87 L321.54 168.76 L322.03 168.65 L322.52 168.54 L323.00 168.44 L323.49 168.33 L323.98 168.22 L324.47 168.12 L324.96 168.01 L325.45 167.91 L325.94 167.80 L326.43 167.70 L326.92 167.59 L327.40 167.49 L327.89 167.39 L328.38 167.28 L328.87 167.18 L329.36 167.08 L329.85 166.98 L330.34 166.87 L330.83 166.77 L331.32 166.67 L331.81 166.57 L332.30 166.47 L332.79 166.37 L333.28 166.27 L333.77 166.17 L334.26 166.07 L334.75 165.97 L335.24 165.88 L335.73 165.78 L336.22 165.68 L336.71 165.58 L337.20 165.49 L337.69 165.39 L338.18 165.29 L338.67 165.20 L339.16 165.10 L339.65 165.01 L340.14 164.91 L340.63 164.82 L341.12 164.72 L341.61 164.63 L342.10 164.54 L342.59 164.44 L343.08 164.35 L343.57 164.26 L344.06 164.17 L344.55 164.08 L345.04 163.98 L345.53 163.89 L346.03 163.80 L346.52 163.71 L347.01 163.62 L347.50 163.53 L347.99 163.44 L348.48 163.35 L348.97 163.26 L349.46 163.18 L349.95 163.09 L350.45 163.00 L350.94 162.91 L351.43 162.83 L351.92 162.74 L352.41 162.65 L352.90 162.57 L353.40 162.48 L353.89 162.40 L354.38 162.31 L354.87 162.23 L355.36 162.14 L355.85 162.06 L356.35 161.97 L356.84 161.89 L357.33 161.81 L357.82 161.72 L358.31 161.64 L358.81 161.56 L359.30 161.48 L359.79 161.39 L360.28 161.31 L360.78 161.23 L361.27 161.15 L361.76 161.07 L362.25 160.99 L362.75 160.91 L363.24 160.83 L363.73 160.75 L364.22 160.67 L364.72 160.59 L365.21 160.52 L365.70 160.44 L366.19 160.36 L366.69 160.28 L367.18 160.21 L367.67 160.13 L368.17 160.05 L368.66 159.98 L369.15 159.90 L369.65 159.83 L370.14 159.75 L370.63 159.68 L371.13 159.60 L371.62 159.53 L372.11 159.45 L372.61 159.38 L373.10 159.31 L373.59 159.23 L374.09 159.16 L374.58 159.09 L375.07 159.02 L375.57 158.94 L376.06 158.87 L376.55 158.80 L377.05 158.73 L377.54 158.66 L378.04 158.59 L378.53 158.52 L379.02 158.45 L379.52 158.38 L380.01 158.31 L380.50 158.24 L381.00 158.17 L381.49 158.10 L381.99 158.04 L382.48 157.97 L382.98 157.90 L383.47 157.83 L383.96 157.77 L384.46 157.70 L384.95 157.63 L385.45 157.57 L385.94 157.50 L386.44 157.44 L386.93 157.37 L387.43 157.31 L387.92 157.24 L388.41 157.18 L388.63 157.15" stroke="#0000ff" stroke-width="6.5" stroke-dasharray="10.412 4.988" stroke-dashoffset="12.906"/>
<path d="M388.63 157.15 L388.91 157.11 L389.40 157.05 L389.90 156.99 L390.39 156.92 L390.89 156.86 L391.38 156.80 L391.88 156.73 L392.37 156.67 L392.87 156.61 L393.36 156.55 L393.86 156.49 L394.35 156.43 L394.85 156.36 L395.34 156.30 L395.84 156.24 L396.33 156.18 L396.83 156.12 L397.33 156.06 L397.82 156.01 L398.32 155.95 L398.81 155.89 L399.31 155.83 L399.80 155.77 L400.30 155.71 L400.79 155.66 L401.29 155.60 L401.79 155.54 L402.28 155.49 L402.78 155.43 L403.27 155.37 L403.77 155.32 L404.26 155.26 L404.76 155.21 L405.26 155.15 L405.75 155.10 L406.25 155.04 L406.74 154.99 L407.24 154.93 L407.74 154.88 L408.23 154.82 L408.73 154.77 L409.22 154.72 L409.72 154.67 L410.22 154.61 L410.71 154.56 L411.21 154.51 L411.71 154.46 L412.20 154.40 L412.70 154.35 L413.20 154.30 L413.69 154.25 L414.19 154.20 L414.68 154.15 L415.18 154.10 L415.68 154.05 L416.17 154.00 L416.67 153.95 L417.17 153.90 L417.66 153.85 L418.16 153.81 L418.66 153.76 L419.16 153.71 L419.65 153.66 L420.15 153.61 L420.65 153.57 L421.14 153.52 L421.64 153.47 L422.14 153.43 L422.63 153.38 L423.13 153.33 L423.63 153.29 L424.13 153.24 L424.62 153.20 L425.12 153.15 L425.62 153.11 L426.11 153.06 L426.61 153.02 L427.11 152.97 L427.61 152.93 L428.10 152.88 L428.60 152.84 L429.10 152.80 L429.60 152.75 L430.09 152.71 L430.59 152.67 L431.09 152.63 L431.59 152.58 L432.08 152.54 L432.58 152.50 L433.08 152.46 L433.58 152.42 L434.07 152.38 L434.57 152.33 L435.07 152.29 L435.57 152.25 L436.07 152.21 L436.56 152.17 L437.06 152.13 L437.56 152.09 L438.06 152.06 L438.56 152.02 L439.05 151.98 L439.55 151.94 L440.05 151.90 L440.55 151.86 L441.05 151.82 L441.54 151.79 L442.04 151.75 L442.54 151.71 L443.04 151.67 L443.54 151.64 L444.04 151.60 L444.53 151.56 L445.03 151.53 L445.53 151.49 L446.03 151.46 L446.53 151.42 L447.03 151.39 L447.52 151.35 L448.02 151.31 L448.52 151.28 L449.02 151.25 L449.52 151.21 L450.02 151.18 L450.52 151.14 L451.01 151.11 L451.51 151.08 L452.01 151.04 L452.51 151.01 L453.01 150.98 L453.51 150.94 L454.01 150.91 L454.51 150.88 L455.00 150.85 L455.50 150.82 L456.00 150.78 L456.50 150.75 L457.00 150.72 L457.50 150.69 L458.00 150.66 L458.50 150.63 L459.00 150.60 L459.49 150.57 L459.99 150.54 L460.49 150.51 L460.99 150.48 L461.49 150.45 L461.99 150.42 L462.49 150.39 L462.99 150.36 L463.49 150.33 L463.99 150.30 L464.49 150.27 L464.99 150.25 L465.49 150.22 L465.98 150.19 L466.48 150.16 L466.98 150.14 L467.48 150.11 L467.98 150.08 L468.48 150.05 L468.98 150.03 L469.48 150.00 L469.98 149.97 L470.48 149.95 L470.98 149.92 L471.48 149.90 L471.98 149.87 L472.48 149.85 L472.98 149.82 L473.48 149.79 L473.98 149.77 L474.48 149.75 L474.98 149.72 L475.48 149.70 L475.98 149.67 L476.48 149.65 L476.98 149.62 L477.47 149.60 L477.97 149.58 L478.47 149.55 L478.97 149.53 L479.47 149.51 L479.97 149.48 L480.47 149.46 L480.97 149.44 L481.47 149.42 L481.97 149.40 L482.47 149.37 L482.97 149.35 L483.47 149.33 L483.97 149.31 L484.47 149.29 L484.97 149.27 L485.47 149.25 L485.97 149.22 L486.47 149.20 L486.97 149.18 L487.47 149.16 L487.97 149.14 L488.48 149.12 L488.98 149.10 L489.48 149.08 L489.98 149.06 L490.48 149.04 L490.98 149.03 L491.48 149.01 L491.98 148.99 L492.48 148.97 L492.98 148.95 L493.48 148.93 L493.98 148.91 L494.48 148.90 L494.98 148.88 L495.48 148.86 L495.98 148.84 L496.48 148.82 L496.98 148.81 L497.48 148.79 L497.73 148.78" stroke="#0000ff" stroke-width="6.5" stroke-dasharray="10.573 5.065" stroke-dashoffset="13.105"/>
<path d="M497.73 148.78 L497.98 148.77 L498.48 148.76 L498.98 148.74 L499.48 148.72 L499.98 148.71 L500.48 148.69 L500.98 148.67 L501.49 148.66 L501.99 148.64 L502.49 148.63 L502.99 148.61 L503.49 148.60 L503.99 148.58 L504.49 148.57 L504.99 148.55 L505.49 148.54 L505.99 148.52 L506.49 148.51 L506.99 148.49 L507.49 148.48 L507.99 148.46 L508.49 148.45 L509.00 148.44 L509.50 148.42 L510.00 148.41 L510.50 148.39 L511.00 148.38 L511.50 148.37 L512.00 148.35 L512.50 148.34 L513.00 148.33 L513.50 148.32 L514.00 148.30 L514.50 148.29 L515.01 148.28 L515.51 148.27 L516.01 148.26 L516.51 148.24 L517.01 148.23 L517.51 148.22 L518.01 148.21 L518.51 148.20 L519.01 148.19 L519.51 148.17 L520.02 148.16 L520.52 148.15 L521.02 148.14 L521.52 148.13 L522.02 148.12 L522.52 148.11 L523.02 148.10 L523.52 148.09 L524.02 148.08 L524.52 148.07 L525.03 148.06 L525.53 148.05 L526.03 148.04 L526.53 148.03 L527.03 148.02 L527.53 148.01 L528.03 148.00 L528.53 147.99 L529.03 147.99 L529.54 147.98 L530.04 147.97 L530.54 147.96 L531.04 147.95 L531.54 147.94 L532.04 147.93 L532.54 147.93 L533.04 147.92 L533.55 147.91 L534.05 147.90 L534.55 147.89 L535.05 147.89 L535.55 147.88 L536.05 147.87 L536.55 147.87 L537.05 147.86 L537.56 147.85 L538.06 147.84 L538.56 147.84 L539.06 147.83 L539.56 147.82 L540.06 147.82 L540.56 147.81 L541.06 147.80 L541.57 147.80 L542.07 147.79 L542.57 147.79 L543.07 147.78 L543.57 147.77 L544.07 147.77 L544.57 147.76 L545.08 147.76 L545.58 147.75 L546.08 147.75 L546.58 147.74 L547.08 147.74 L547.58 147.73 L548.08 147.73 L548.58 147.72 L549.09 147.72 L549.59 147.71 L550.09 147.71 L550.59 147.70 L551.09 147.70 L551.59 147.69 L552.09 147.69 L552.60 147.68 L553.10 147.68 L553.60 147.68 L554.10 147.67 L554.60 147.67 L555.10 147.66 L555.60 147.66 L556.11 147.66 L556.61 147.65 L557.11 147.65 L557.61 147.65 L558.11 147.64 L558.61 147.64 L559.11 147.64 L559.62 147.63 L560.12 147.63 L560.62 147.63 L561.12 147.62 L561.62 147.62 L562.12 147.62 L562.62 147.62 L563.13 147.61 L563.63 147.61 L564.13 147.61 L564.63 147.61 L565.13 147.60 L565.63 147.60 L566.13 147.60 L566.64 147.60 L567.14 147.60 L567.64 147.59 L568.14 147.59 L568.64 147.59 L569.14 147.59 L569.64 147.59 L570.15 147.58 L570.65 147.58 L571.15 147.58 L571.65 147.58 L572.15 147.58 L572.65 147.58 L573.15 147.58 L573.65 147.57 L574.16 147.57 L574.66 147.57 L575.16 147.57 L575.66 147.57 L576.16 147.57 L576.66 147.57 L577.16 147.57 L577.67 147.57 L578.17 147.57 L578.67 147.57 L579.17 147.56 L579.67 147.56 L580.17 147.56 L580.67 147.56 L581.18 147.56 L581.68 147.56 L582.18 147.56 L582.68 147.56 L583.18 147.56 L583.68 147.56 L584.18 147.56 L584.68 147.56 L585.19 147.56 L585.69 147.56 L586.19 147.56 L586.69 147.56 L587.19 147.56 L587.69 147.56 L588.19 147.56 L588.70 147.56 L589.20 147.56 L589.70 147.56 L590.20 147.56 L590.70 147.56 L590.95 147.56" stroke="#0000ff" stroke-width="6.5" stroke-dasharray="10.506 5.033" stroke-dashoffset="13.023"/>
<path d="M590.95 147.56 L591.20 147.56 L591.70 147.57 L592.20 147.57 L592.71 147.57 L593.21 147.57 L593.71 147.57 L594.21 147.57 L594.71 147.57 L595.21 147.57 L595.71 147.57 L596.21 147.57 L596.71 147.57 L597.22 147.57 L597.72 147.57 L598.22 147.58 L598.72 147.58 L599.22 147.58 L599.72 147.58 L600.22 147.58 L600.72 147.58 L601.22 147.58 L601.73 147.58 L602.23 147.58 L602.73 147.59 L603.23 147.59 L603.73 147.59 L604.23 147.59 L604.73 147.59 L605.23 147.59 L605.73 147.59 L606.24 147.60 L606.74 147.60 L607.24 147.60 L607.74 147.60 L608.24 147.60 L608.74 147.60 L609.24 147.60 L609.74 147.61 L610.24 147.61 L610.74 147.61 L611.24 147.61 L611.75 147.61 L612.25 147.61 L612.75 147.62 L613.25 147.62 L613.75 147.62 L614.25 147.62 L614.75 147.62 L615.25 147.62 L615.75 147.62 L616.25 147.63 L616.75 147.63 L617.25 147.63 L617.76 147.63 L618.26 147.63 L618.76 147.64 L619.26 147.64 L619.76 147.64 L620.26 147.64 L620.76 147.64 L621.26 147.64 L621.76 147.65 L622.26 147.65 L622.76 147.65 L623.26 147.65 L623.76 147.65 L624.26 147.65 L624.77 147.66 L625.27 147.66 L625.77 147.66 L626.27 147.66 L626.77 147.66 L627.27 147.67 L627.77 147.67 L628.27 147.67 L628.77 147.67 L629.27 147.67 L629.77 147.67 L630.27 147.68 L630.77 147.68 L631.27 147.68 L631.77 147.68 L632.27 147.68 L632.77 147.68 L633.27 147.69 L633.77 147.69 L634.27 147.69 L634.77 147.69 L635.27 147.69 L635.77 147.69 L636.27 147.70 L636.77 147.70 L637.28 147.70 L637.78 147.70 L638.28 147.70 L638.78 147.70 L639.28 147.70 L639.78 147.71 L640.28 147.71 L640.78 147.71 L641.28 147.71 L641.78 147.71 L642.28 147.71 L642.78 147.71 L643.28 147.72 L643.78 147.72 L644.28 147.72 L644.78 147.72 L645.28 147.72 L645.78 147.72 L646.28 147.72 L646.78 147.72 L647.28 147.73 L647.78 147.73 L648.28 147.73 L648.78 147.73 L649.28 147.73 L649.77 147.73 L650.27 147.73 L650.77 147.73 L651.27 147.73 L651.77 147.73 L652.27 147.73 L652.77 147.74 L653.27 147.74 L653.77 147.74 L654.27 147.74 L654.77 147.74 L655.27 147.74 L655.77 147.74 L656.27 147.74 L656.77 147.74 L657.27 147.74 L657.77 147.74 L658.27 147.74 L658.77 147.74 L659.27 147.74 L659.77 147.74 L660.27 147.74 L660.76 147.74 L661.26 147.74 L661.76 147.74 L662.26 147.74 L662.76 147.74 L663.26 147.74 L663.76 147.74 L664.26 147.74 L664.76 147.74 L665.26 147.74 L665.76 147.74 L666.26 147.74 L666.76 147.74 L667.25 147.74 L667.75 147.74 L668.25 147.74 L668.75 147.74 L669.25 147.74 L669.75 147.74 L670.25 147.74 L670.75 147.74 L671.25 147.73 L671.74 147.73 L672.24 147.73 L672.74 147.73 L673.24 147.73 L673.74 147.73 L674.24 147.73 L674.74 147.73 L675.24 147.73 L675.73 147.72 L676.23 147.72 L676.73 147.72 L677.23 147.72 L677.73 147.72 L678.23 147.72 L678.73 147.71 L679.22 147.71 L679.72 147.71 L680.22 147.71 L680.72 147.71 L681.22 147.70 L681.72 147.70 L682.21 147.70 L682.71 147.70 L683.21 147.69 L683.71 147.69 L684.21 147.69 L684.71 147.69 L685.20 147.68 L685.70 147.68 L686.20 147.68 L686.70 147.68 L687.20 147.67 L687.69 147.67 L688.19 147.67 L688.69 147.66 L689.19 147.66 L689.69 147.66 L690.18 147.65 L690.68 147.65 L691.18 147.65 L691.68 147.64 L692.17 147.64 L692.67 147.63 L693.17 147.63 L693.67 147.63 L694.17 147.62 L694.66 147.62 L695.16 147.61 L695.66 147.61 L696.16 147.60 L696.65 147.60 L697.15 147.59 L697.65 147.59 L698.15 147.59 L698.64 147.58 L699.14 147.58 L699.64 147.57 L699.83 147.57" stroke="#0000ff" stroke-width="6.5" stroke-dasharray="10.516 5.038" stroke-dashoffset="13.035"/>
<path d="M699.83 147.57 L700.14 147.57 L700.63 147.56 L701.13 147.55 L701.63 147.55 L702.12 147.54 L702.62 147.54 L703.12 147.53 L703.62 147.53 L704.11 147.52 L704.61 147.51 L705.11 147.51 L705.60 147.50 L706.10 147.50 L706.60 147.49 L707.09 147.48 L707.59 147.48 L708.09 147.47 L708.58 147.46 L709.08 147.46 L709.58 147.45 L710.07 147.44 L710.57 147.43 L711.07 147.43 L711.56 147.42 L712.06 147.41 L712.56 147.40 L713.00 147.40" stroke="#0000ff" stroke-width="6.5" stroke-dasharray="10.500 5.030" stroke-dashoffset="13.015"/>
<path d="M119.60 422.50 L119.66 422.02 L119.72 421.53 L119.78 421.05 L119.84 420.56 L119.90 420.08 L119.97 419.60 L120.03 419.11 L120.09 418.63 L120.15 418.14 L120.21 417.65 L120.27 417.17 L120.34 416.68 L120.40 416.20 L120.46 415.71 L120.52 415.22 L120.59 414.74 L120.65 414.25 L120.72 413.76 L120.78 413.27 L120.85 412.78 L120.91 412.30 L120.98 411.81 L121.04 411.32 L121.11 410.83 L121.17 410.34 L121.24 409.85 L121.31 409.36 L121.38 408.87 L121.44 408.38 L121.51 407.89 L121.58 407.40 L121.65 406.91 L121.72 406.42 L121.79 405.93 L121.86 405.43 L121.93 404.94 L122.00 404.45 L122.07 403.96 L122.14 403.47 L122.21 402.98 L122.28 402.48 L122.36 401.99 L122.43 401.50 L122.50 401.01 L122.58 400.51 L122.65 400.02 L122.72 399.53 L122.80 399.03 L122.87 398.54 L122.95 398.05 L123.02 397.55 L123.10 397.06 L123.18 396.57 L123.26 396.07 L123.33 395.58 L123.41 395.08 L123.49 394.59 L123.57 394.10 L123.65 393.60 L123.73 393.11 L123.81 392.61 L123.89 392.12 L123.97 391.62 L124.05 391.13 L124.13 390.63 L124.22 390.14 L124.30 389.64 L124.38 389.15 L124.47 388.65 L124.55 388.16 L124.64 387.66 L124.72 387.17 L124.81 386.67 L124.89 386.18 L124.98 385.68 L125.07 385.19 L125.16 384.69 L125.24 384.19 L125.33 383.70 L125.42 383.20 L125.51 382.71 L125.60 382.21 L125.69 381.72 L125.79 381.22 L125.88 380.73 L125.97 380.23 L126.06 379.73 L126.16 379.24 L126.25 378.74 L126.35 378.25 L126.44 377.75 L126.54 377.26 L126.63 376.76 L126.73 376.27 L126.83 375.77 L126.93 375.28 L127.03 374.78 L127.12 374.29 L127.22 373.79 L127.32 373.30 L127.43 372.80 L127.53 372.31 L127.63 371.81 L127.73 371.32 L127.84 370.82 L127.94 370.33 L128.04 369.83 L128.15 369.34 L128.26 368.85 L128.36 368.35 L128.47 367.86 L128.58 367.36 L128.68 366.87 L128.79 366.38 L128.90 365.88 L129.01 365.39 L129.12 364.90 L129.24 364.40 L129.35 363.91 L129.46 363.42 L129.57 362.92 L129.69 362.43 L129.80 361.94 L129.92 361.45 L130.03 360.95 L130.15 360.46 L130.27 359.97 L130.39 359.48 L130.51 358.99 L130.62 358.50 L130.74 358.00 L130.87 357.51 L130.99 357.02 L131.11 356.53 L131.23 356.04 L131.36 355.55 L131.48 355.06 L131.61 354.57 L131.73 354.08 L131.86 353.59 L131.99 353.10 L132.11 352.61 L132.24 352.12 L132.37 351.64 L132.50 351.15 L132.63 350.66 L132.76 350.17 L132.90 349.68 L133.03 349.20 L133.16 348.71 L133.30 348.22 L133.43 347.74 L133.57 347.25 L133.71 346.76 L133.85 346.28 L133.98 345.79 L134.12 345.31 L134.26 344.82 L134.40 344.34 L134.55 343.85 L134.69 343.37 L134.83 342.88 L134.98 342.40 L135.12 341.92 L135.27 341.43 L135.41 340.95 L135.56 340.47 L135.71 339.99 L135.86 339.50 L136.01 339.02 L136.16 338.54 L136.31 338.06 L136.46 337.58 L136.61 337.10 L136.77 336.62 L136.92 336.14 L137.08 335.66 L137.24 335.18 L137.39 334.70 L137.55 334.23 L137.71 333.75 L137.87 333.27 L138.03 332.79 L138.19 332.32 L138.35 331.84 L138.52 331.37 L138.68 330.89 L138.85 330.41 L139.01 329.94 L139.18 329.47 L139.35 328.99 L139.52 328.52 L139.69 328.05 L139.86 327.57 L140.03 327.10 L140.20 326.63 L140.38 326.16 L140.55 325.69 L140.72 325.22 L140.90 324.74 L141.08 324.28 L141.26 323.81 L141.43 323.34 L141.61 322.87 L141.80 322.40 L141.98 321.93 L142.16 321.47 L142.34 321.00 L142.53 320.53 L142.71 320.07 L142.90 319.60 L143.09 319.14 L143.28 318.67 L143.47 318.21 L143.66 317.75 L143.85 317.28 L144.04 316.82 L144.23 316.36 L144.43 315.90 L144.62 315.44 L144.82 314.98 L145.02 314.52 L145.22 314.06 L145.42 313.60 L145.62 313.14 L145.82 312.68 L146.02 312.23 L146.22 311.77 L146.43 311.31 L146.63 310.86 L146.84 310.40 L147.05 309.95 L147.26 309.49 L147.47 309.04 L147.68 308.59 L147.89 308.14 L148.10 307.68 L148.32 307.23 L148.53 306.78 L148.75 306.33 L148.96 305.88 L149.18 305.43 L149.40 304.99 L149.62 304.54 L149.84 304.09 L150.07 303.64 L150.29 303.20 L150.51 302.75 L150.74 302.31 L150.97 301.87 L151.20 301.42 L151.43 300.98 L151.66 300.54 L151.89 300.10 L152.12 299.65 L152.35 299.21 L152.59 298.77 L152.82 298.34 L153.06 297.90 L153.30 297.46 L153.54 297.02 L153.78 296.59 L154.02 296.15 L154.26 295.72 L154.51 295.28 L154.75 294.85 L155.00 294.41 L155.24 293.98 L155.49 293.55 L155.74 293.12 L155.99 292.69 L156.24 292.26 L156.49 291.83 L156.75 291.40 L157.00 290.97 L157.26 290.55 L157.51 290.12 L157.77 289.70 L158.03 289.27 L158.29 288.85 L158.55 288.42 L158.81 288.00 L159.08 287.58 L159.34 287.16 L159.61 286.74 L159.87 286.32 L160.14 285.90 L160.41 285.48 L160.68 285.06 L160.95 284.64 L161.22 284.23 L161.49 283.81 L161.77 283.40 L162.04 282.98 L162.32 282.57 L162.59 282.16 L162.87 281.74 L163.15 281.33 L163.43 280.92 L163.71 280.51 L164.00 280.10 L164.28 279.70 L164.56 279.29 L164.85 278.88 L165.13 278.48 L165.42 278.07 L165.71 277.67 L166.00 277.26 L166.29 276.86 L166.58 276.46 L166.88 276.06 L167.17 275.66 L167.46 275.26 L167.76 274.86 L168.06 274.46 L168.36 274.06 L168.65 273.66 L168.95 273.27 L169.26 272.87 L169.56 272.48 L169.86 272.09 L170.16 271.69 L170.47 271.30 L170.78 270.91 L171.08 270.52 L171.39 270.13 L171.70 269.74 L172.01 269.36 L172.32 268.97 L172.63 268.58 L172.95 268.20 L173.26 267.81 L173.58 267.43 L173.89 267.05 L174.21 266.67 L174.53 266.29 L174.85 265.91 L175.17 265.53 L175.49 265.15 L175.81 264.77 L176.14 264.39 L176.46 264.02 L176.79 263.64 L177.11 263.27 L177.44 262.90 L177.77 262.52 L178.10 262.15 L178.43 261.78 L178.76 261.41 L179.09 261.04 L179.43 260.68 L179.76 260.31 L180.10 259.94 L180.43 259.58 L180.77 259.21 L181.11 258.85 L181.45 258.49 L181.79 258.13 L182.13 257.76 L182.47 257.40 L182.82 257.05 L183.16 256.69 L183.51 256.33 L183.85 255.98 L184.20 255.62 L184.55 255.27 L184.90 254.91 L185.25 254.56 L185.60 254.21 L185.95 253.86 L186.30 253.51 L186.66 253.16 L187.01 252.81 L187.37 252.47 L187.73 252.12 L188.08 251.77 L188.44 251.43 L188.80 251.09 L189.16 250.75 L189.52 250.41 L189.89 250.06 L190.25 249.73 L190.61 249.39 L190.98 249.05 L191.35 248.71 L191.71 248.38 L192.08 248.04 L192.45 247.71 L192.82 247.38 L193.19 247.05 L193.56 246.72 L193.94 246.39 L194.31 246.06 L194.68 245.73 L195.06 245.40 L195.44 245.08 L195.81 244.75 L196.19 244.43 L196.57 244.11 L196.95 243.78 L197.33 243.46 L197.71 243.14 L198.09 242.82 L198.48 242.50 L198.63 242.38" stroke="#006400" stroke-width="6.5" stroke-dasharray="8.636 4.971 2.209 4.971" stroke-dashoffset="3.326"/>
<path d="M198.63 242.38 L198.86 242.19 L199.25 241.87 L199.63 241.55 L200.02 241.24 L200.40 240.93 L200.79 240.61 L201.18 240.30 L201.57 239.99 L201.96 239.68 L202.35 239.37 L202.74 239.06 L203.14 238.76 L203.53 238.45 L203.92 238.14 L204.32 237.84 L204.71 237.54 L205.11 237.23 L205.51 236.93 L205.91 236.63 L206.30 236.33 L206.70 236.03 L207.10 235.73 L207.51 235.43 L207.91 235.14 L208.31 234.84 L208.71 234.55 L209.12 234.25 L209.52 233.96 L209.93 233.67 L210.33 233.38 L210.74 233.09 L211.14 232.80 L211.55 232.51 L211.96 232.22 L212.37 231.94 L212.78 231.65 L213.19 231.36 L213.60 231.08 L214.01 230.80 L214.42 230.52 L214.84 230.23 L215.25 229.95 L215.67 229.67 L216.08 229.40 L216.50 229.12 L216.91 228.84 L217.33 228.56 L217.75 228.29 L218.16 228.02 L218.58 227.74 L219.00 227.47 L219.42 227.20 L219.84 226.93 L220.26 226.66 L220.68 226.39 L221.10 226.12 L221.53 225.85 L221.95 225.59 L222.37 225.32 L222.80 225.05 L223.22 224.79 L223.65 224.53 L224.07 224.27 L224.50 224.00 L224.93 223.74 L225.35 223.48 L225.78 223.22 L226.21 222.97 L226.64 222.71 L227.07 222.45 L227.50 222.20 L227.93 221.94 L228.36 221.69 L228.79 221.44 L229.22 221.18 L229.65 220.93 L230.08 220.68 L230.52 220.43 L230.95 220.18 L231.38 219.94 L231.82 219.69 L232.25 219.44 L232.69 219.20 L233.12 218.95 L233.56 218.71 L234.00 218.47 L234.43 218.23 L234.87 217.98 L235.31 217.74 L235.75 217.50 L236.18 217.27 L236.62 217.03 L237.06 216.79 L237.50 216.55 L237.94 216.32 L238.38 216.08 L238.82 215.85 L239.26 215.62 L239.71 215.39 L240.15 215.15 L240.59 214.92 L241.03 214.69 L241.47 214.46 L241.92 214.24 L242.36 214.01 L242.80 213.78 L243.25 213.56 L243.69 213.33 L244.14 213.11 L244.58 212.89 L245.03 212.66 L245.47 212.44 L245.92 212.22 L246.37 212.00 L246.81 211.78 L247.26 211.56 L247.71 211.34 L248.16 211.13 L248.60 210.91 L249.05 210.70 L249.50 210.48 L249.95 210.27 L250.40 210.05 L250.85 209.84 L251.30 209.63 L251.75 209.42 L252.20 209.21 L252.65 209.00 L253.10 208.79 L253.56 208.58 L254.01 208.38 L254.46 208.17 L254.91 207.96 L255.37 207.76 L255.82 207.56 L256.27 207.35 L256.73 207.15 L257.18 206.95 L257.63 206.75 L258.09 206.55 L258.54 206.35 L259.00 206.15 L259.46 205.95 L259.91 205.75 L260.37 205.56 L260.82 205.36 L261.28 205.17 L261.74 204.97 L262.20 204.78 L262.65 204.59 L263.11 204.39 L263.57 204.20 L264.03 204.01 L264.49 203.82 L264.95 203.63 L265.41 203.44 L265.87 203.25 L266.33 203.07 L266.79 202.88 L267.25 202.70 L267.71 202.51 L268.17 202.33 L268.63 202.14 L269.10 201.96 L269.56 201.78 L270.02 201.60 L270.48 201.41 L270.95 201.23 L271.41 201.05 L271.87 200.88 L272.34 200.70 L272.80 200.52 L273.27 200.34 L273.73 200.17 L274.19 199.99 L274.66 199.82 L275.13 199.64 L275.59 199.47 L276.06 199.30 L276.52 199.13 L276.99 198.95 L277.46 198.78 L277.92 198.61 L278.39 198.44 L278.86 198.28 L279.33 198.11 L279.80 197.94 L280.26 197.77 L280.73 197.61 L281.20 197.44 L281.67 197.28 L282.14 197.11 L282.61 196.95 L283.08 196.79 L283.55 196.62 L284.02 196.46 L284.49 196.30 L284.96 196.14 L285.43 195.98 L285.90 195.82 L286.38 195.66 L286.85 195.51 L287.32 195.35 L287.79 195.19 L288.27 195.04 L288.74 194.88 L289.21 194.73 L289.40 194.67" stroke="#006400" stroke-width="6.5" stroke-dasharray="8.570 4.933 2.192 4.933" stroke-dashoffset="18.161"/>
<path d="M289.40 194.67 L289.69 194.57 L290.16 194.42 L290.63 194.27 L291.11 194.12 L291.58 193.96 L292.06 193.81 L292.53 193.66 L293.01 193.51 L293.48 193.36 L293.96 193.22 L294.43 193.07 L294.91 192.92 L295.38 192.77 L295.86 192.63 L296.34 192.48 L296.81 192.34 L297.29 192.19 L297.77 192.05 L298.25 191.91 L298.72 191.76 L299.20 191.62 L299.68 191.48 L300.16 191.34 L300.64 191.20 L301.12 191.06 L301.59 190.92 L302.07 190.78 L302.55 190.65 L303.03 190.51 L303.51 190.37 L303.99 190.24 L304.47 190.10 L304.95 189.96 L305.43 189.83 L305.92 189.70 L306.40 189.56 L306.88 189.43 L307.36 189.30 L307.84 189.17 L308.32 189.03 L308.80 188.90 L309.29 188.77 L309.77 188.64 L310.25 188.52 L310.73 188.39 L311.22 188.26 L311.70 188.13 L312.18 188.01 L312.67 187.88 L313.15 187.75 L313.64 187.63 L314.12 187.50 L314.60 187.38 L315.09 187.26 L315.57 187.13 L316.06 187.01 L316.54 186.89 L317.03 186.77 L317.51 186.65 L318.00 186.53 L318.49 186.41 L318.97 186.29 L319.46 186.17 L319.94 186.05 L320.43 185.93 L320.92 185.81 L321.40 185.70 L321.89 185.58 L322.38 185.46 L322.87 185.35 L323.35 185.23 L323.84 185.12 L324.33 185.00 L324.82 184.89 L325.31 184.78 L325.79 184.67 L326.28 184.55 L326.77 184.44 L327.26 184.33 L327.75 184.22 L328.24 184.11 L328.73 184.00 L329.22 183.89 L329.71 183.78 L330.20 183.68 L330.69 183.57 L331.18 183.46 L331.67 183.35 L332.16 183.25 L332.65 183.14 L333.14 183.04 L333.63 182.93 L334.12 182.83 L334.61 182.72 L335.10 182.62 L335.59 182.52 L336.08 182.41 L336.58 182.31 L337.07 182.21 L337.56 182.11 L338.05 182.01 L338.54 181.91 L339.04 181.81 L339.53 181.71 L340.02 181.61 L340.51 181.51 L341.01 181.41 L341.50 181.31 L341.99 181.22 L342.49 181.12 L342.98 181.02 L343.47 180.93 L343.97 180.83 L344.46 180.73 L344.95 180.64 L345.45 180.54 L345.94 180.45 L346.44 180.36 L346.93 180.26 L347.42 180.17 L347.92 180.08 L348.41 179.99 L348.91 179.89 L349.40 179.80 L349.90 179.71 L350.39 179.62 L350.89 179.53 L351.38 179.44 L351.88 179.35 L352.37 179.26 L352.87 179.18 L353.37 179.09 L353.86 179.00 L354.36 178.91 L354.85 178.83 L355.35 178.74 L355.85 178.65 L356.34 178.57 L356.84 178.48 L357.34 178.40 L357.83 178.31 L358.33 178.23 L358.83 178.14 L359.32 178.06 L359.82 177.98 L360.32 177.89 L360.81 177.81 L361.31 177.73 L361.81 177.65 L362.31 177.57 L362.80 177.49 L363.30 177.40 L363.80 177.32 L364.30 177.24 L364.79 177.16 L365.29 177.09 L365.79 177.01 L366.29 176.93 L366.79 176.85 L367.28 176.77 L367.78 176.69 L368.28 176.62 L368.78 176.54 L369.28 176.46 L369.78 176.39 L370.27 176.31 L370.77 176.23 L371.27 176.16 L371.77 176.08 L372.27 176.01 L372.77 175.94 L373.27 175.86 L373.77 175.79 L374.27 175.71 L374.77 175.64 L375.26 175.57 L375.76 175.50 L376.26 175.42 L376.76 175.35 L377.26 175.28 L377.76 175.21 L378.26 175.14 L378.76 175.07 L379.26 175.00 L379.76 174.93 L380.26 174.86 L380.76 174.79 L381.26 174.72 L381.76 174.65 L382.26 174.58 L382.76 174.51 L383.26 174.44 L383.76 174.38 L384.26 174.31 L384.76 174.24 L385.26 174.17 L385.76 174.11 L386.26 174.04 L386.76 173.97 L387.26 173.91 L387.76 173.84 L388.26 173.78 L388.76 173.71 L389.26 173.65 L389.76 173.58 L390.26 173.52 L390.76 173.45 L391.27 173.39 L391.55 173.35" stroke="#006400" stroke-width="6.5" stroke-dasharray="8.684 4.998 2.221 4.998" stroke-dashoffset="18.402"/>
<path d="M391.55 173.35 L391.77 173.33 L392.27 173.26 L392.77 173.20 L393.27 173.14 L393.77 173.07 L394.27 173.01 L394.77 172.95 L395.27 172.89 L395.77 172.82 L396.27 172.76 L396.77 172.70 L397.27 172.64 L397.77 172.58 L398.28 172.52 L398.78 172.46 L399.28 172.40 L399.78 172.34 L400.28 172.28 L400.78 172.22 L401.28 172.16 L401.78 172.10 L402.28 172.04 L402.78 171.98 L403.28 171.93 L403.78 171.87 L404.29 171.81 L404.79 171.75 L405.29 171.69 L405.79 171.64 L406.29 171.58 L406.79 171.52 L407.29 171.46 L407.79 171.41 L408.29 171.35 L408.79 171.30 L409.29 171.24 L409.79 171.18 L410.30 171.13 L410.80 171.07 L411.30 171.02 L411.80 170.96 L412.30 170.91 L412.80 170.85 L413.30 170.80 L413.80 170.74 L414.30 170.69 L414.80 170.63 L415.30 170.58 L415.80 170.53 L416.30 170.47 L416.80 170.42 L417.30 170.37 L417.80 170.31 L418.30 170.26 L418.81 170.21 L419.31 170.15 L419.81 170.10 L420.31 170.05 L420.81 170.00 L421.31 169.94 L421.81 169.89 L422.31 169.84 L422.81 169.79 L423.31 169.74 L423.81 169.69 L424.31 169.63 L424.81 169.58 L425.31 169.53 L425.81 169.48 L426.31 169.43 L426.81 169.38 L427.31 169.33 L427.81 169.28 L428.31 169.23 L428.81 169.18 L429.31 169.13 L429.81 169.08 L430.30 169.03 L430.80 168.98 L431.30 168.93 L431.80 168.88 L432.30 168.83 L432.80 168.79 L433.30 168.74 L433.80 168.69 L434.30 168.64 L434.80 168.59 L435.30 168.54 L435.80 168.50 L436.30 168.45 L436.80 168.40 L437.30 168.35 L437.80 168.31 L438.30 168.26 L438.79 168.21 L439.29 168.17 L439.79 168.12 L440.29 168.07 L440.79 168.03 L441.29 167.98 L441.79 167.93 L442.29 167.89 L442.79 167.84 L443.29 167.80 L443.78 167.75 L444.28 167.70 L444.78 167.66 L445.28 167.61 L445.78 167.57 L446.28 167.52 L446.78 167.48 L447.28 167.43 L447.78 167.39 L448.27 167.35 L448.77 167.30 L449.27 167.26 L449.77 167.21 L450.27 167.17 L450.77 167.13 L451.27 167.08 L451.76 167.04 L452.26 167.00 L452.76 166.95 L453.26 166.91 L453.76 166.87 L454.26 166.83 L454.75 166.78 L455.25 166.74 L455.75 166.70 L456.25 166.66 L456.75 166.61 L457.25 166.57 L457.74 166.53 L458.24 166.49 L458.74 166.45 L459.24 166.41 L459.74 166.37 L460.24 166.32 L460.73 166.28 L461.23 166.24 L461.73 166.20 L462.23 166.16 L462.73 166.12 L463.22 166.08 L463.72 166.04 L464.22 166.00 L464.72 165.96 L465.22 165.92 L465.71 165.88 L466.21 165.84 L466.71 165.80 L467.21 165.77 L467.70 165.73 L468.20 165.69 L468.70 165.65 L469.20 165.61 L469.70 165.57 L470.19 165.53 L470.69 165.50 L471.19 165.46 L471.69 165.42 L472.18 165.38 L472.68 165.34 L473.18 165.31 L473.68 165.27 L474.18 165.23 L474.67 165.19 L475.17 165.16 L475.67 165.12 L476.17 165.08 L476.66 165.05 L477.16 165.01 L477.66 164.98 L478.16 164.94 L478.65 164.90 L479.15 164.87 L479.65 164.83 L480.15 164.80 L480.64 164.76 L481.14 164.72 L481.64 164.69 L482.13 164.65 L482.63 164.62 L483.13 164.58 L483.63 164.55 L484.12 164.52 L484.62 164.48 L485.12 164.45 L485.62 164.41 L486.11 164.38 L486.61 164.34 L487.11 164.31 L487.60 164.28 L488.10 164.24 L488.60 164.21 L489.10 164.18 L489.59 164.14 L490.09 164.11 L490.59 164.08 L491.08 164.04 L491.58 164.01 L492.08 163.98 L492.58 163.95 L493.07 163.91 L493.57 163.88 L494.07 163.85 L494.56 163.82 L494.76 163.81" stroke="#006400" stroke-width="6.5" stroke-dasharray="8.614 4.958 2.203 4.958" stroke-dashoffset="18.254"/>
<path d="M494.76 163.81 L495.06 163.79 L495.56 163.75 L496.06 163.72 L496.55 163.69 L497.05 163.66 L497.55 163.63 L498.04 163.60 L498.54 163.57 L499.04 163.54 L499.53 163.50 L500.03 163.47 L500.53 163.44 L501.02 163.41 L501.52 163.38 L502.02 163.35 L502.52 163.32 L503.01 163.29 L503.51 163.26 L504.01 163.23 L504.50 163.20 L505.00 163.18 L505.50 163.15 L505.99 163.12 L506.49 163.09 L506.99 163.06 L507.48 163.03 L507.98 163.00 L508.48 162.97 L508.97 162.94 L509.47 162.92 L509.97 162.89 L510.46 162.86 L510.96 162.83 L511.46 162.80 L511.95 162.78 L512.45 162.75 L512.95 162.72 L513.44 162.69 L513.94 162.67 L514.44 162.64 L514.93 162.61 L515.43 162.59 L515.93 162.56 L516.42 162.53 L516.92 162.51 L517.42 162.48 L517.91 162.45 L518.41 162.43 L518.91 162.40 L519.40 162.38 L519.90 162.35 L520.40 162.32 L520.89 162.30 L521.39 162.27 L521.89 162.25 L522.38 162.22 L522.88 162.20 L523.38 162.17 L523.87 162.15 L524.37 162.12 L524.87 162.10 L525.36 162.07 L525.86 162.05 L526.36 162.03 L526.85 162.00 L527.35 161.98 L527.85 161.95 L528.34 161.93 L528.84 161.91 L529.34 161.88 L529.83 161.86 L530.33 161.84 L530.83 161.81 L531.32 161.79 L531.82 161.77 L532.32 161.74 L532.81 161.72 L533.31 161.70 L533.81 161.67 L534.30 161.65 L534.80 161.63 L535.30 161.61 L535.79 161.59 L536.29 161.56 L536.78 161.54 L537.28 161.52 L537.78 161.50 L538.27 161.48 L538.77 161.45 L539.27 161.43 L539.76 161.41 L540.26 161.39 L540.76 161.37 L541.25 161.35 L541.75 161.33 L542.25 161.31 L542.74 161.29 L543.24 161.27 L543.74 161.25 L544.23 161.23 L544.73 161.21 L545.23 161.19 L545.72 161.17 L546.22 161.15 L546.72 161.13 L547.21 161.11 L547.71 161.09 L548.21 161.07 L548.70 161.05 L549.20 161.03 L549.70 161.01 L550.19 160.99 L550.69 160.97 L551.19 160.95 L551.68 160.93 L552.18 160.92 L552.68 160.90 L553.17 160.88 L553.67 160.86 L554.17 160.84 L554.66 160.82 L555.16 160.81 L555.66 160.79 L556.15 160.77 L556.65 160.75 L557.15 160.74 L557.64 160.72 L558.14 160.70 L558.64 160.68 L559.13 160.67 L559.63 160.65 L560.13 160.63 L560.62 160.62 L561.12 160.60 L561.62 160.58 L562.11 160.57 L562.61 160.55 L563.11 160.53 L563.61 160.52 L564.10 160.50 L564.60 160.49 L565.10 160.47 L565.59 160.45 L566.09 160.44 L566.59 160.42 L567.08 160.41 L567.58 160.39 L568.08 160.38 L568.57 160.36 L569.07 160.35 L569.57 160.33 L570.06 160.32 L570.56 160.30 L571.06 160.29 L571.56 160.27 L572.05 160.26 L572.55 160.24 L573.05 160.23 L573.54 160.22 L574.04 160.20 L574.54 160.19 L575.03 160.17 L575.53 160.16 L576.03 160.15 L576.53 160.13 L577.02 160.12 L577.52 160.11 L578.02 160.09 L578.51 160.08 L579.01 160.07 L579.51 160.05 L580.01 160.04 L580.50 160.03 L581.00 160.01 L581.50 160.00 L581.99 159.99 L582.49 159.98 L582.99 159.96 L583.49 159.95 L583.98 159.94 L584.48 159.93 L584.98 159.92 L585.48 159.90 L585.97 159.89 L586.47 159.88 L586.97 159.87 L587.47 159.86 L587.96 159.85 L588.46 159.84 L588.96 159.82 L589.46 159.81 L589.95 159.80 L590.45 159.79 L590.95 159.78 L591.44 159.77 L591.94 159.76 L592.44 159.75 L592.94 159.74 L593.44 159.73 L593.93 159.72 L594.43 159.71 L594.93 159.70 L595.43 159.69 L595.92 159.68 L596.42 159.67 L596.92 159.66 L597.42 159.65 L597.91 159.64 L598.11 159.63" stroke="#006400" stroke-width="6.5" stroke-dasharray="8.595 4.947 2.199 4.947" stroke-dashoffset="18.215"/>
<path d="M598.11 159.63 L598.41 159.63 L598.91 159.62 L599.41 159.61 L599.91 159.60 L600.40 159.59 L600.90 159.58 L601.40 159.57 L601.90 159.57 L602.39 159.56 L602.89 159.55 L603.39 159.54 L603.89 159.53 L604.39 159.52 L604.88 159.51 L605.38 159.51 L605.88 159.50 L606.38 159.49 L606.88 159.48 L607.37 159.47 L607.87 159.47 L608.37 159.46 L608.87 159.45 L609.37 159.44 L609.87 159.44 L610.36 159.43 L610.86 159.42 L611.36 159.41 L611.86 159.41 L612.36 159.40 L612.86 159.39 L613.35 159.39 L613.85 159.38 L614.35 159.37 L614.85 159.37 L615.35 159.36 L615.85 159.35 L616.34 159.35 L616.84 159.34 L617.34 159.33 L617.84 159.33 L618.34 159.32 L618.84 159.32 L619.34 159.31 L619.83 159.31 L620.33 159.30 L620.83 159.29 L621.33 159.29 L621.83 159.28 L622.33 159.28 L622.83 159.27 L623.33 159.27 L623.82 159.26 L624.32 159.26 L624.82 159.25 L625.32 159.25 L625.82 159.24 L626.32 159.24 L626.82 159.23 L627.32 159.23 L627.82 159.22 L628.32 159.22 L628.82 159.22 L629.31 159.21 L629.81 159.21 L630.31 159.20 L630.81 159.20 L631.31 159.20 L631.81 159.19 L632.31 159.19 L632.81 159.19 L633.31 159.18 L633.81 159.18 L634.31 159.17 L634.81 159.17 L635.31 159.17 L635.81 159.16 L636.31 159.16 L636.80 159.16 L637.30 159.16 L637.80 159.15 L638.30 159.15 L638.80 159.15 L639.30 159.15 L639.80 159.14 L640.30 159.14 L640.80 159.14 L641.30 159.14 L641.80 159.13 L642.30 159.13 L642.80 159.13 L643.30 159.13 L643.80 159.12 L644.30 159.12 L644.80 159.12 L645.30 159.12 L645.80 159.12 L646.30 159.12 L646.80 159.11 L647.30 159.11 L647.80 159.11 L648.30 159.11 L648.80 159.11 L649.30 159.11 L649.80 159.11 L650.31 159.11 L650.81 159.11 L651.31 159.10 L651.81 159.10 L652.31 159.10 L652.81 159.10 L653.31 159.10 L653.81 159.10 L654.31 159.10 L654.81 159.10 L655.31 159.10 L655.81 159.10 L656.31 159.10 L656.81 159.10 L657.31 159.10 L657.82 159.10 L658.32 159.10 L658.82 159.10 L659.32 159.10 L659.82 159.10 L660.32 159.10 L660.82 159.10 L661.32 159.10 L661.82 159.10 L662.33 159.10 L662.83 159.11 L663.33 159.11 L663.83 159.11 L664.33 159.11 L664.83 159.11 L665.33 159.11 L665.83 159.11 L666.34 159.11 L666.84 159.11 L667.34 159.12 L667.84 159.12 L668.34 159.12 L668.84 159.12 L669.35 159.12 L669.85 159.12 L670.35 159.13 L670.85 159.13 L671.35 159.13 L671.86 159.13 L672.36 159.13 L672.86 159.14 L673.36 159.14 L673.86 159.14 L674.37 159.14 L674.87 159.14 L675.37 159.15 L675.87 159.15 L676.38 159.15 L676.88 159.15 L677.38 159.16 L677.88 159.16 L678.39 159.16 L678.89 159.17 L679.39 159.17 L679.89 159.17 L680.40 159.18 L680.90 159.18 L681.40 159.18 L681.90 159.18 L682.41 159.19 L682.91 159.19 L683.41 159.19 L683.92 159.20 L684.42 159.20 L684.92 159.21 L685.42 159.21 L685.93 159.21 L686.43 159.22 L686.93 159.22 L687.44 159.22 L687.94 159.23 L688.44 159.23 L688.95 159.24 L689.45 159.24 L689.95 159.25 L690.46 159.25 L690.96 159.25 L691.46 159.26 L691.97 159.26 L692.47 159.27 L692.98 159.27 L693.48 159.28 L693.98 159.28 L694.49 159.29 L694.99 159.29 L695.49 159.30 L696.00 159.30 L696.50 159.31 L697.01 159.31 L697.51 159.32 L698.02 159.32 L698.52 159.33 L699.02 159.33 L699.53 159.34 L700.03 159.34 L700.54 159.35 L701.04 159.35 L701.55 159.36 L702.05 159.37 L702.34 159.37" stroke="#006400" stroke-width="6.5" stroke-dasharray="8.661 4.985 2.216 4.985" stroke-dashoffset="18.355"/>
<path d="M702.34 159.37 L702.55 159.37 L703.06 159.38 L703.56 159.38 L704.07 159.39 L704.57 159.39 L705.08 159.40 L705.58 159.41 L706.09 159.41 L706.59 159.42 L707.10 159.42 L707.60 159.43 L708.11 159.44 L708.61 159.44 L709.12 159.45 L709.62 159.46 L710.13 159.46 L710.64 159.47 L711.14 159.48 L711.65 159.48 L712.15 159.49 L712.66 159.50 L713.00 159.50" stroke="#006400" stroke-width="6.5" stroke-dasharray="8.600 4.950 2.200 4.950" stroke-dashoffset="18.225"/>
</g>
<rect x="116.50" y="27.40" width="596.50" height="422.00" stroke="#000" stroke-width="1.1" fill="none"/>
<g style="filter:grayscale(1)" stroke="#fff" stroke-width="0.7">
<text transform="translate(113.981 478.769) scale(0.2548 0.2311)" font-size="100">0</text>
<text transform="translate(219.056 478.656) scale(0.2359 0.2294)" font-size="100">0.05</text>
<text transform="translate(344.161 478.656) scale(0.2348 0.2294)" font-size="100">0.1</text>
<text transform="translate(457.356 478.656) scale(0.2359 0.2294)" font-size="100">0.15</text>
<text transform="translate(582.437 478.656) scale(0.2407 0.2294)" font-size="100">0.2</text>
<text transform="translate(696.066 478.656) scale(0.2335 0.2294)" font-size="100">0.25</text>
<text transform="translate(91.129 455.969) scale(0.2429 0.2311)" font-size="100">0</text>
<text transform="translate(73.261 286.456) scale(0.2348 0.2294)" font-size="100">0.1</text>
<text transform="translate(73.023 117.456) scale(0.2442 0.2294)" font-size="100">0.2</text>
<text transform="translate(10.212 34.659) scale(0.2863 0.3275)" font-size="100">(</text>
<text transform="translate(19.722 34.702) scale(0.3367 0.2979)" font-size="100">a</text>
<text transform="translate(34.781 34.747) scale(0.2731 0.3311)" font-size="100">)</text>
<text transform="translate(379.648 513.900) scale(0.3618 0.3084)" font-size="100" font-style="italic">T</text>
<path d="M403.9 520.9L414.4 491.6" stroke="#000" stroke-width="1.3" fill="none"/>
<text transform="translate(415.346 514.034) scale(0.3467 0.3104)" font-size="100" font-style="italic">W</text>
<g stroke="#000" fill="none" stroke-linecap="round"><path d="M45.3 258.6L70.5 265.7" stroke-width="2.4"/><path d="M45.3 247.2L59.5 251.1" stroke-width="2.3"/><path d="M59.5 251.1C61.5 252.2 63 254.8 62.9 257.3C62.8 259.8 61.2 261.3 58.8 261.6" stroke-width="1.2"/><path d="M59.5 251.1C61.5 251 62.8 249.5 62.6 247.6C62.3 245.5 59.5 244.4 56.6 244.4" stroke-width="1.1"/></g>
<text transform="translate(46.700 242.328) rotate(-90) scale(0.2950 0.3106)" font-size="100">2</text>
<text transform="translate(73.208 242.786) rotate(-90) scale(0.3216 0.2917)" font-size="100">e</text>
<text transform="translate(73.200 229.871) rotate(-90) scale(0.2903 0.3035)" font-size="100">ff</text>
<text transform="translate(366.959 279.383) scale(0.2934 0.3173)" font-size="100" font-style="italic">U</text>
<path d="M391.5 286.2L402.2 256.7" stroke="#000" stroke-width="1.3" fill="none"/>
<text transform="translate(402.562 279.228) scale(0.3444 0.3149)" font-size="100" font-style="italic">W</text>
<path d="M445.1 268.9H465.1M445.1 274.3H465.1" stroke="#000" stroke-width="1.2" fill="none"/>
<text transform="translate(473.989 279.142) scale(0.3012 0.3052)" font-size="100">1.25</text>
<text transform="translate(511.374 327.900) scale(0.3029 0.2970)" font-size="100">1</text>
<text transform="translate(488.766 378.346) scale(0.3085 0.3029)" font-size="100">0.9</text>
</g>
<g fill="none" stroke-width="6.5">
<path d="M540 272.07H610" stroke="#ff0000"/>
<path d="M540 322.4H610" stroke="#0000ff" stroke-dasharray="10.5 5.03"/>
<path d="M540 372.8H610" stroke="#006400" stroke-dasharray="8.6 4.95 2.2 4.95"/>
</g>
</svg></body></html>
